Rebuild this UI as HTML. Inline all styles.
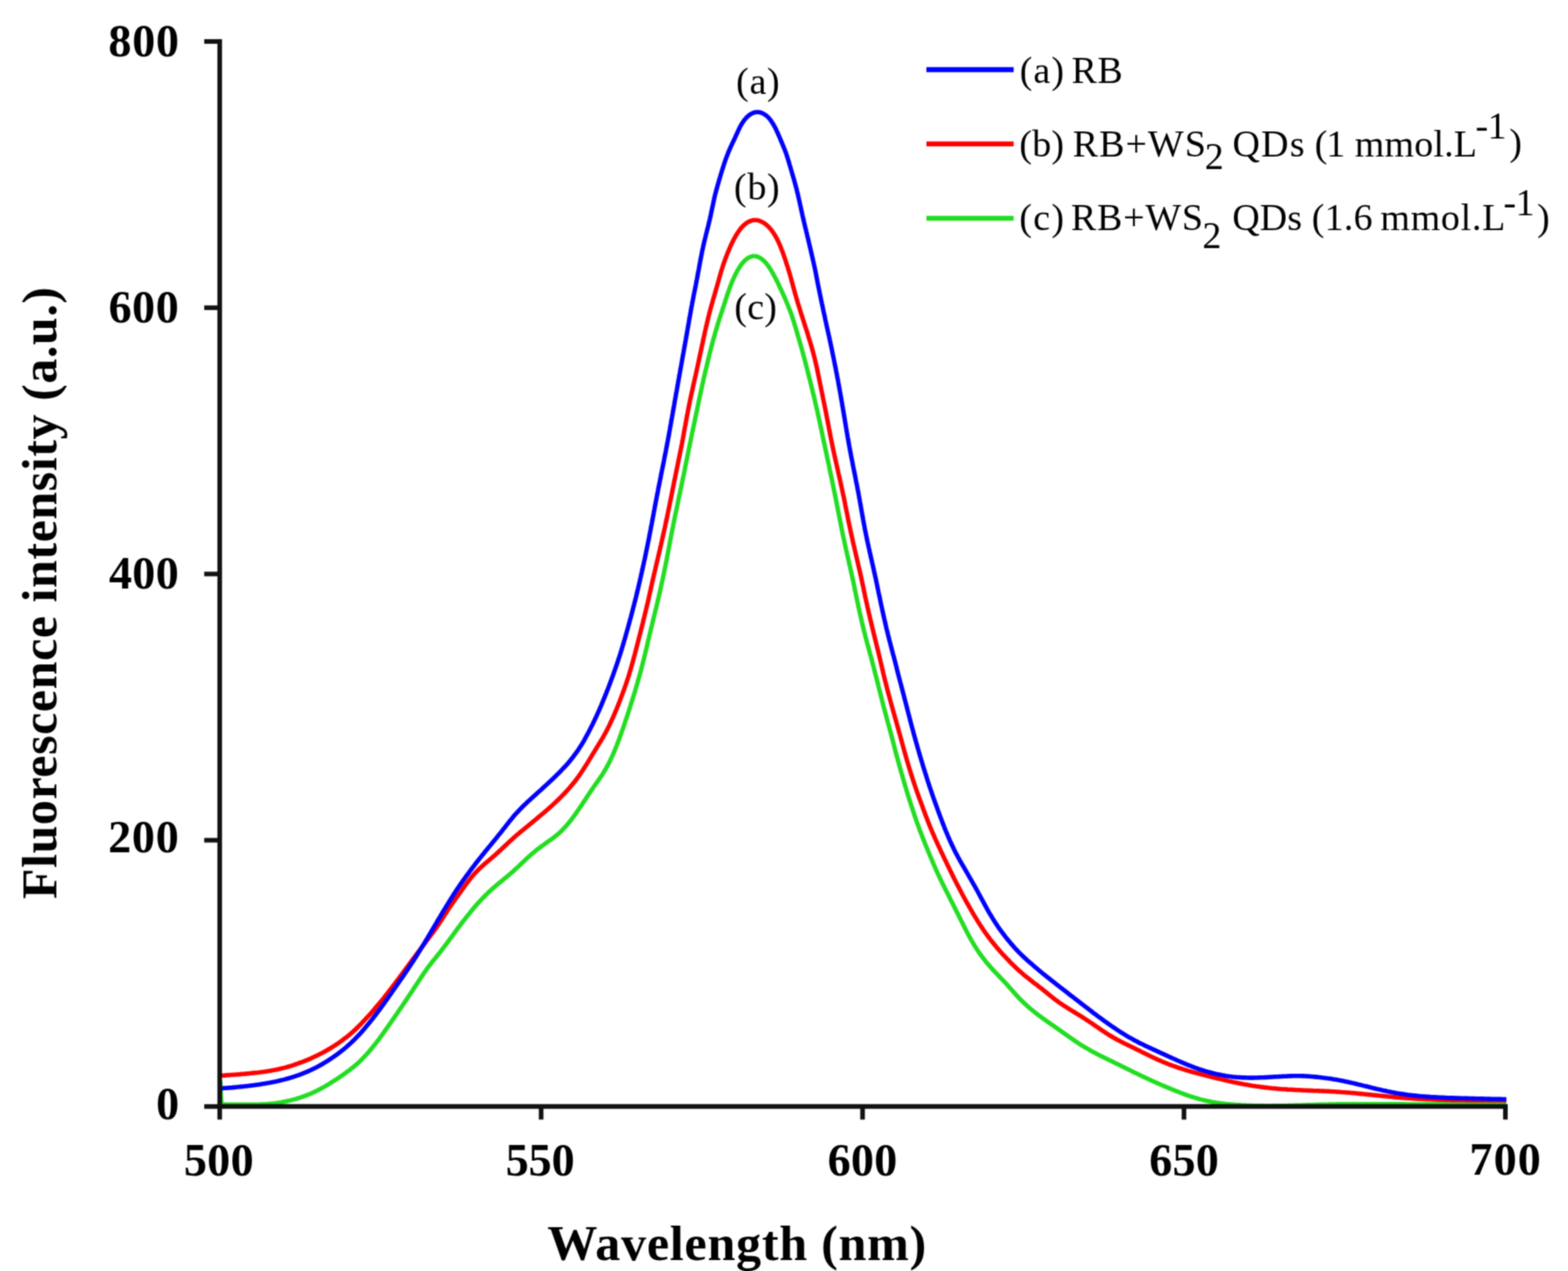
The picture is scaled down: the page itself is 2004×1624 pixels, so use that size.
<!DOCTYPE html>
<html><head><meta charset="utf-8"><title>Fluorescence spectra</title>
<style>html,body{margin:0;padding:0;background:#fff;}svg{display:block;}</style>
</head><body>
<svg xmlns="http://www.w3.org/2000/svg" width="2004" height="1624" viewBox="0 0 2004 1624"><defs><filter id="bl" x="0" y="0" width="2004" height="1624" filterUnits="userSpaceOnUse" color-interpolation-filters="sRGB"><feConvolveMatrix order="5" kernelMatrix="0.00082 0.01174 0.02857 0.01174 0.00082 0.01174 0.16901 0.41111 0.16901 0.01174 0.02857 0.41111 1.00000 0.41111 0.02857 0.01174 0.16901 0.41111 0.16901 0.01174 0.00082 0.01174 0.02857 0.01174 0.00082" edgeMode="duplicate"/></filter></defs><g filter="url(#bl)"><rect x="0" y="0" width="2004" height="1624" fill="#ffffff"/>
<g fill="none" stroke-width="5.6" stroke-linejoin="round" stroke-linecap="butt">
<path d="M281.5 1381.0 L283.0 1411.1 L285.0 1411.1 L287.0 1411.2 L289.0 1411.2 L291.0 1411.2 L293.0 1411.3 L295.0 1411.3 L297.0 1411.3 L299.0 1411.3 L301.0 1411.4 L303.0 1411.4 L305.0 1411.4 L307.0 1411.4 L309.0 1411.4 L311.0 1411.4 L313.0 1411.4 L315.0 1411.4 L317.0 1411.4 L319.1 1411.4 L321.1 1411.4 L323.1 1411.4 L325.1 1411.4 L327.1 1411.3 L329.1 1411.3 L331.1 1411.2 L333.1 1411.1 L335.0 1411.1 L337.0 1411.0 L339.0 1410.9 L341.0 1410.7 L343.0 1410.6 L345.0 1410.4 L347.0 1410.2 L349.0 1410.0 L351.0 1409.8 L352.9 1409.5 L354.9 1409.2 L356.9 1408.9 L358.9 1408.6 L360.8 1408.2 L362.8 1407.8 L364.7 1407.4 L366.7 1407.0 L368.6 1406.6 L370.6 1406.1 L372.5 1405.6 L374.5 1405.1 L376.4 1404.6 L378.3 1404.1 L380.2 1403.5 L382.1 1402.9 L384.0 1402.3 L385.9 1401.7 L387.8 1401.0 L389.7 1400.3 L391.5 1399.6 L393.4 1398.9 L395.2 1398.2 L397.1 1397.4 L398.9 1396.6 L400.7 1395.7 L402.5 1394.9 L404.3 1394.0 L406.1 1393.1 L407.9 1392.2 L409.6 1391.3 L411.4 1390.3 L413.1 1389.4 L414.9 1388.4 L416.6 1387.4 L418.3 1386.3 L420.0 1385.3 L421.7 1384.3 L423.4 1383.2 L425.1 1382.1 L426.8 1381.0 L428.5 1380.0 L430.2 1378.9 L431.8 1377.8 L433.5 1376.7 L435.2 1375.5 L436.8 1374.4 L438.5 1373.3 L440.1 1372.1 L441.7 1371.0 L443.3 1369.8 L444.9 1368.6 L446.5 1367.4 L448.1 1366.2 L449.7 1364.9 L451.2 1363.7 L452.8 1362.4 L454.3 1361.1 L455.8 1359.8 L457.3 1358.5 L458.7 1357.2 L460.2 1355.8 L461.6 1354.4 L463.0 1353.0 L464.4 1351.6 L465.8 1350.1 L467.1 1348.7 L468.5 1347.2 L469.8 1345.7 L471.1 1344.3 L472.4 1342.7 L473.7 1341.2 L475.0 1339.7 L476.2 1338.1 L477.5 1336.6 L478.7 1335.0 L480.0 1333.5 L481.2 1331.9 L482.4 1330.3 L483.6 1328.7 L484.8 1327.1 L485.9 1325.5 L487.1 1323.9 L488.3 1322.3 L489.5 1320.6 L490.6 1319.0 L491.8 1317.4 L493.0 1315.8 L494.1 1314.1 L495.3 1312.5 L496.4 1310.9 L497.6 1309.2 L498.7 1307.6 L499.9 1305.9 L501.0 1304.3 L502.1 1302.6 L503.3 1301.0 L504.4 1299.3 L505.5 1297.7 L506.7 1296.0 L507.8 1294.4 L508.9 1292.7 L510.1 1291.1 L511.2 1289.4 L512.3 1287.8 L513.5 1286.1 L514.6 1284.5 L515.7 1282.8 L516.8 1281.1 L518.0 1279.5 L519.1 1277.8 L520.2 1276.2 L521.3 1274.5 L522.4 1272.8 L523.5 1271.2 L524.6 1269.5 L525.7 1267.9 L526.8 1266.2 L527.9 1264.5 L529.0 1262.8 L530.1 1261.2 L531.2 1259.5 L532.3 1257.8 L533.4 1256.2 L534.5 1254.5 L535.6 1252.8 L536.7 1251.2 L537.8 1249.5 L538.9 1247.8 L540.0 1246.2 L541.1 1244.5 L542.2 1242.9 L543.3 1241.3 L544.5 1239.6 L545.6 1238.0 L546.8 1236.4 L548.0 1234.8 L549.2 1233.3 L550.4 1231.7 L551.6 1230.1 L552.8 1228.6 L554.1 1227.0 L555.3 1225.5 L556.6 1223.9 L557.8 1222.4 L559.1 1220.9 L560.3 1219.3 L561.5 1217.8 L562.8 1216.2 L564.0 1214.6 L565.2 1213.1 L566.4 1211.5 L567.6 1209.9 L568.8 1208.3 L570.0 1206.7 L571.2 1205.1 L572.4 1203.5 L573.6 1201.9 L574.7 1200.3 L575.9 1198.7 L577.1 1197.1 L578.3 1195.5 L579.5 1193.9 L580.6 1192.2 L581.8 1190.6 L583.0 1189.0 L584.2 1187.4 L585.4 1185.8 L586.6 1184.2 L587.8 1182.6 L589.0 1181.0 L590.2 1179.4 L591.4 1177.8 L592.6 1176.3 L593.9 1174.7 L595.1 1173.1 L596.4 1171.5 L597.6 1170.0 L598.9 1168.4 L600.1 1166.9 L601.4 1165.3 L602.6 1163.8 L603.9 1162.2 L605.2 1160.7 L606.5 1159.2 L607.8 1157.7 L609.1 1156.1 L610.4 1154.6 L611.8 1153.2 L613.1 1151.7 L614.5 1150.2 L615.8 1148.8 L617.2 1147.3 L618.6 1145.9 L620.0 1144.5 L621.4 1143.0 L622.8 1141.7 L624.2 1140.3 L625.7 1138.9 L627.2 1137.6 L628.6 1136.2 L630.1 1134.9 L631.6 1133.6 L633.1 1132.3 L634.7 1131.0 L636.2 1129.7 L637.7 1128.5 L639.3 1127.2 L640.8 1125.9 L642.4 1124.7 L643.9 1123.4 L645.4 1122.1 L647.0 1120.9 L648.5 1119.6 L650.0 1118.3 L651.6 1117.0 L653.1 1115.7 L654.6 1114.4 L656.1 1113.1 L657.5 1111.7 L659.0 1110.4 L660.5 1109.0 L661.9 1107.7 L663.4 1106.3 L664.8 1104.9 L666.3 1103.5 L667.7 1102.2 L669.2 1100.8 L670.6 1099.4 L672.1 1098.1 L673.5 1096.7 L675.0 1095.3 L676.5 1094.0 L677.9 1092.7 L679.4 1091.4 L680.9 1090.1 L682.5 1088.8 L684.0 1087.5 L685.5 1086.3 L687.1 1085.1 L688.7 1083.9 L690.3 1082.7 L691.8 1081.5 L693.5 1080.3 L695.1 1079.2 L696.7 1078.0 L698.3 1076.9 L699.9 1075.8 L701.5 1074.6 L703.1 1073.5 L704.7 1072.3 L706.3 1071.2 L707.9 1070.0 L709.4 1068.8 L710.9 1067.6 L712.4 1066.3 L713.9 1065.1 L715.4 1063.8 L716.8 1062.4 L718.2 1061.1 L719.5 1059.7 L720.9 1058.2 L722.2 1056.8 L723.5 1055.3 L724.8 1053.9 L726.1 1052.4 L727.3 1050.8 L728.6 1049.3 L729.8 1047.7 L731.0 1046.2 L732.2 1044.6 L733.4 1043.0 L734.6 1041.4 L735.7 1039.8 L736.9 1038.1 L738.0 1036.5 L739.2 1034.8 L740.3 1033.2 L741.4 1031.5 L742.5 1029.9 L743.7 1028.2 L744.8 1026.5 L745.9 1024.8 L747.0 1023.2 L748.1 1021.5 L749.2 1019.8 L750.3 1018.1 L751.4 1016.5 L752.5 1014.8 L753.6 1013.1 L754.7 1011.5 L755.8 1009.8 L757.0 1008.2 L758.1 1006.5 L759.2 1004.9 L760.4 1003.3 L761.5 1001.6 L762.7 1000.0 L763.8 998.4 L764.9 996.8 L766.1 995.1 L767.2 993.5 L768.3 991.9 L769.4 990.2 L770.5 988.6 L771.5 986.9 L772.5 985.2 L773.5 983.5 L774.5 981.8 L775.5 980.1 L776.4 978.3 L777.4 976.6 L778.3 974.8 L779.2 973.0 L780.0 971.3 L780.9 969.5 L781.7 967.7 L782.6 965.9 L783.4 964.1 L784.2 962.2 L785.0 960.4 L785.7 958.6 L786.5 956.7 L787.2 954.9 L788.0 953.0 L788.7 951.2 L789.4 949.3 L790.2 947.4 L790.9 945.5 L791.6 943.7 L792.2 941.8 L792.9 939.9 L793.6 938.0 L794.3 936.1 L794.9 934.2 L795.6 932.4 L796.3 930.5 L796.9 928.6 L797.6 926.7 L798.2 924.8 L798.9 922.9 L799.5 921.0 L800.1 919.1 L800.8 917.2 L801.4 915.3 L802.0 913.4 L802.6 911.5 L803.3 909.6 L803.9 907.7 L804.5 905.8 L805.1 903.9 L805.7 902.0 L806.3 900.0 L806.9 898.1 L807.5 896.2 L808.1 894.3 L808.7 892.4 L809.3 890.5 L809.9 888.6 L810.5 886.7 L811.1 884.8 L811.7 882.8 L812.2 880.9 L812.8 879.0 L813.4 877.1 L813.9 875.2 L814.5 873.3 L815.0 871.3 L815.6 869.4 L816.1 867.5 L816.7 865.6 L817.2 863.6 L817.7 861.7 L818.3 859.8 L818.8 857.8 L819.3 855.9 L819.8 854.0 L820.3 852.0 L820.8 850.1 L821.3 848.2 L821.8 846.2 L822.3 844.3 L822.8 842.4 L823.3 840.4 L823.7 838.5 L824.2 836.5 L824.7 834.6 L825.1 832.6 L825.6 830.7 L826.1 828.8 L826.5 826.8 L827.0 824.9 L827.4 822.9 L827.9 821.0 L828.3 819.0 L828.8 817.1 L829.3 815.1 L829.7 813.2 L830.2 811.2 L830.6 809.3 L831.1 807.3 L831.6 805.4 L832.0 803.4 L832.5 801.5 L833.0 799.6 L833.5 797.6 L833.9 795.7 L834.4 793.7 L834.9 791.8 L835.3 789.8 L835.8 787.9 L836.3 786.0 L836.8 784.0 L837.2 782.1 L837.7 780.1 L838.2 778.2 L838.7 776.2 L839.1 774.3 L839.6 772.4 L840.1 770.4 L840.5 768.5 L841.0 766.5 L841.4 764.6 L841.9 762.6 L842.3 760.7 L842.8 758.7 L843.2 756.8 L843.7 754.8 L844.1 752.9 L844.5 750.9 L845.0 749.0 L845.4 747.0 L845.8 745.1 L846.2 743.1 L846.7 741.1 L847.1 739.2 L847.5 737.2 L847.9 735.3 L848.3 733.3 L848.7 731.4 L849.1 729.4 L849.5 727.4 L849.9 725.5 L850.3 723.5 L850.7 721.6 L851.1 719.6 L851.5 717.6 L851.9 715.7 L852.3 713.7 L852.6 711.8 L853.0 709.8 L853.4 707.8 L853.8 705.9 L854.1 703.9 L854.5 701.9 L854.9 700.0 L855.2 698.0 L855.6 696.0 L856.0 694.1 L856.3 692.1 L856.7 690.1 L857.1 688.2 L857.5 686.2 L857.8 684.2 L858.2 682.3 L858.6 680.3 L859.0 678.4 L859.4 676.4 L859.8 674.4 L860.2 672.5 L860.5 670.5 L860.9 668.5 L861.3 666.6 L861.7 664.6 L862.1 662.7 L862.5 660.7 L862.9 658.7 L863.3 656.8 L863.7 654.8 L864.1 652.9 L864.6 650.9 L865.0 649.0 L865.4 647.0 L865.8 645.0 L866.2 643.1 L866.6 641.1 L867.0 639.2 L867.4 637.2 L867.8 635.3 L868.2 633.3 L868.7 631.3 L869.1 629.4 L869.5 627.4 L869.9 625.5 L870.3 623.5 L870.7 621.6 L871.1 619.6 L871.5 617.6 L871.9 615.7 L872.3 613.7 L872.7 611.8 L873.2 609.8 L873.6 607.8 L874.0 605.9 L874.4 603.9 L874.8 602.0 L875.2 600.0 L875.5 598.0 L875.9 596.1 L876.3 594.1 L876.7 592.2 L877.1 590.2 L877.5 588.2 L877.9 586.3 L878.3 584.3 L878.7 582.4 L879.1 580.4 L879.5 578.4 L879.9 576.5 L880.3 574.5 L880.7 572.6 L881.1 570.6 L881.5 568.6 L881.9 566.7 L882.3 564.7 L882.7 562.8 L883.1 560.8 L883.5 558.8 L883.9 556.9 L884.3 554.9 L884.7 553.0 L885.1 551.0 L885.5 549.1 L885.9 547.1 L886.4 545.1 L886.8 543.2 L887.2 541.2 L887.6 539.3 L888.0 537.3 L888.4 535.3 L888.8 533.4 L889.2 531.4 L889.6 529.5 L890.0 527.5 L890.4 525.6 L890.9 523.6 L891.3 521.6 L891.7 519.7 L892.1 517.7 L892.5 515.8 L892.9 513.8 L893.3 511.9 L893.7 509.9 L894.1 507.9 L894.6 506.0 L895.0 504.0 L895.4 502.1 L895.8 500.1 L896.2 498.2 L896.7 496.2 L897.1 494.3 L897.5 492.3 L897.9 490.3 L898.4 488.4 L898.8 486.4 L899.2 484.5 L899.7 482.5 L900.1 480.6 L900.6 478.6 L901.0 476.7 L901.5 474.7 L902.0 472.8 L902.4 470.9 L902.9 468.9 L903.3 467.0 L903.8 465.0 L904.3 463.1 L904.7 461.1 L905.2 459.2 L905.7 457.2 L906.1 455.3 L906.6 453.4 L907.1 451.4 L907.6 449.5 L908.1 447.5 L908.6 445.6 L909.1 443.7 L909.6 441.7 L910.1 439.8 L910.6 437.9 L911.1 435.9 L911.6 434.0 L912.2 432.1 L912.7 430.2 L913.3 428.2 L913.8 426.3 L914.4 424.4 L914.9 422.5 L915.5 420.6 L916.1 418.7 L916.6 416.8 L917.2 414.8 L917.8 412.9 L918.4 411.0 L919.0 409.1 L919.6 407.2 L920.2 405.3 L920.8 403.4 L921.4 401.5 L922.1 399.6 L922.7 397.7 L923.3 395.8 L923.9 393.9 L924.5 392.0 L925.2 390.1 L925.8 388.2 L926.4 386.3 L927.0 384.4 L927.6 382.5 L928.3 380.6 L928.9 378.7 L929.5 376.7 L930.2 374.8 L930.8 372.9 L931.5 371.0 L932.2 369.1 L932.9 367.2 L933.6 365.2 L934.4 363.3 L935.1 361.4 L935.9 359.5 L936.7 357.6 L937.6 355.6 L938.5 353.7 L939.4 351.8 L940.3 349.9 L941.3 348.1 L942.3 346.2 L943.3 344.4 L944.4 342.6 L945.5 340.8 L946.7 339.1 L947.9 337.5 L949.1 335.9 L950.5 334.4 L951.8 333.1 L953.2 331.8 L954.7 330.6 L956.2 329.6 L957.8 328.8 L959.4 328.1 L961.0 327.6 L962.6 327.3 L964.3 327.3 L965.9 327.4 L967.6 327.8 L969.2 328.4 L970.8 329.2 L972.3 330.1 L973.8 331.2 L975.3 332.4 L976.7 333.7 L978.0 335.1 L979.4 336.6 L980.6 338.2 L981.9 339.8 L983.1 341.6 L984.2 343.3 L985.3 345.1 L986.4 346.9 L987.5 348.8 L988.5 350.6 L989.5 352.5 L990.5 354.3 L991.5 356.2 L992.4 358.1 L993.4 359.9 L994.3 361.8 L995.2 363.7 L996.1 365.5 L996.9 367.4 L997.8 369.2 L998.7 371.1 L999.5 372.9 L1000.3 374.7 L1001.2 376.6 L1002.0 378.4 L1002.8 380.2 L1003.6 382.1 L1004.4 383.9 L1005.1 385.8 L1005.9 387.6 L1006.7 389.4 L1007.4 391.3 L1008.2 393.1 L1008.9 395.0 L1009.6 396.8 L1010.3 398.7 L1011.0 400.5 L1011.7 402.4 L1012.3 404.3 L1012.9 406.2 L1013.5 408.1 L1014.2 410.0 L1014.8 411.9 L1015.3 413.8 L1015.9 415.7 L1016.5 417.6 L1017.1 419.5 L1017.6 421.4 L1018.2 423.3 L1018.7 425.2 L1019.3 427.1 L1019.8 429.1 L1020.4 431.0 L1021.0 432.9 L1021.5 434.8 L1022.1 436.7 L1022.6 438.6 L1023.2 440.5 L1023.7 442.5 L1024.3 444.4 L1024.8 446.3 L1025.3 448.2 L1025.9 450.2 L1026.4 452.1 L1026.9 454.0 L1027.4 455.9 L1028.0 457.9 L1028.5 459.8 L1029.0 461.7 L1029.5 463.7 L1030.0 465.6 L1030.5 467.5 L1031.0 469.5 L1031.5 471.4 L1032.0 473.4 L1032.5 475.3 L1033.0 477.2 L1033.5 479.2 L1033.9 481.1 L1034.4 483.1 L1034.9 485.0 L1035.4 486.9 L1035.9 488.9 L1036.4 490.8 L1036.8 492.8 L1037.3 494.7 L1037.8 496.6 L1038.3 498.6 L1038.7 500.5 L1039.2 502.5 L1039.7 504.4 L1040.2 506.4 L1040.6 508.3 L1041.1 510.3 L1041.5 512.2 L1042.0 514.2 L1042.4 516.1 L1042.9 518.0 L1043.3 520.0 L1043.8 521.9 L1044.2 523.9 L1044.7 525.8 L1045.1 527.8 L1045.5 529.8 L1046.0 531.7 L1046.4 533.7 L1046.8 535.6 L1047.3 537.6 L1047.7 539.5 L1048.1 541.5 L1048.5 543.4 L1048.9 545.4 L1049.3 547.3 L1049.8 549.3 L1050.2 551.3 L1050.6 553.2 L1051.0 555.2 L1051.4 557.1 L1051.8 559.1 L1052.2 561.0 L1052.6 563.0 L1053.0 565.0 L1053.5 566.9 L1053.9 568.9 L1054.3 570.8 L1054.7 572.8 L1055.1 574.7 L1055.5 576.7 L1056.0 578.7 L1056.4 580.6 L1056.8 582.6 L1057.2 584.5 L1057.6 586.5 L1058.0 588.4 L1058.4 590.4 L1058.9 592.3 L1059.3 594.3 L1059.7 596.3 L1060.1 598.2 L1060.5 600.2 L1060.9 602.1 L1061.3 604.1 L1061.7 606.0 L1062.1 608.0 L1062.6 610.0 L1063.0 611.9 L1063.4 613.9 L1063.8 615.8 L1064.2 617.8 L1064.6 619.8 L1065.0 621.7 L1065.4 623.7 L1065.8 625.6 L1066.2 627.6 L1066.6 629.6 L1067.0 631.5 L1067.4 633.5 L1067.8 635.4 L1068.2 637.4 L1068.6 639.4 L1069.0 641.3 L1069.4 643.3 L1069.7 645.2 L1070.1 647.2 L1070.5 649.2 L1070.9 651.1 L1071.3 653.1 L1071.7 655.1 L1072.0 657.0 L1072.4 659.0 L1072.8 660.9 L1073.2 662.9 L1073.6 664.9 L1074.0 666.8 L1074.4 668.8 L1074.7 670.8 L1075.1 672.7 L1075.5 674.7 L1075.9 676.6 L1076.3 678.6 L1076.7 680.6 L1077.1 682.5 L1077.5 684.5 L1077.9 686.4 L1078.4 688.4 L1078.8 690.3 L1079.2 692.3 L1079.6 694.3 L1080.0 696.2 L1080.5 698.2 L1080.9 700.1 L1081.3 702.1 L1081.8 704.0 L1082.2 706.0 L1082.6 707.9 L1083.1 709.9 L1083.5 711.8 L1084.0 713.8 L1084.4 715.7 L1084.8 717.7 L1085.3 719.6 L1085.7 721.6 L1086.2 723.5 L1086.6 725.5 L1087.0 727.4 L1087.5 729.4 L1087.9 731.3 L1088.4 733.3 L1088.8 735.2 L1089.2 737.2 L1089.6 739.1 L1090.1 741.1 L1090.5 743.0 L1090.9 745.0 L1091.3 747.0 L1091.7 748.9 L1092.1 750.9 L1092.5 752.8 L1092.9 754.8 L1093.3 756.8 L1093.7 758.7 L1094.1 760.7 L1094.5 762.6 L1094.9 764.6 L1095.3 766.5 L1095.8 768.5 L1096.2 770.5 L1096.6 772.4 L1097.0 774.4 L1097.4 776.3 L1097.8 778.3 L1098.3 780.2 L1098.7 782.2 L1099.1 784.1 L1099.6 786.1 L1100.0 788.0 L1100.4 790.0 L1100.9 791.9 L1101.3 793.9 L1101.8 795.8 L1102.2 797.8 L1102.7 799.7 L1103.2 801.7 L1103.7 803.6 L1104.1 805.6 L1104.6 807.5 L1105.1 809.4 L1105.6 811.4 L1106.1 813.3 L1106.6 815.2 L1107.1 817.2 L1107.6 819.1 L1108.1 821.0 L1108.7 823.0 L1109.2 824.9 L1109.7 826.8 L1110.2 828.8 L1110.8 830.7 L1111.3 832.6 L1111.8 834.5 L1112.3 836.5 L1112.9 838.4 L1113.4 840.3 L1113.9 842.3 L1114.4 844.2 L1114.9 846.1 L1115.4 848.1 L1115.9 850.0 L1116.4 851.9 L1116.9 853.9 L1117.4 855.8 L1117.9 857.7 L1118.4 859.7 L1118.9 861.6 L1119.4 863.6 L1119.9 865.5 L1120.4 867.4 L1120.9 869.4 L1121.4 871.3 L1121.9 873.3 L1122.4 875.2 L1122.8 877.1 L1123.3 879.1 L1123.8 881.0 L1124.3 883.0 L1124.8 884.9 L1125.3 886.8 L1125.8 888.8 L1126.3 890.7 L1126.8 892.6 L1127.2 894.6 L1127.7 896.5 L1128.2 898.5 L1128.7 900.4 L1129.2 902.3 L1129.7 904.3 L1130.2 906.2 L1130.8 908.1 L1131.3 910.1 L1131.8 912.0 L1132.3 913.9 L1132.8 915.9 L1133.3 917.8 L1133.9 919.7 L1134.4 921.7 L1134.9 923.6 L1135.4 925.5 L1136.0 927.4 L1136.5 929.4 L1137.0 931.3 L1137.5 933.2 L1138.1 935.2 L1138.6 937.1 L1139.1 939.0 L1139.6 941.0 L1140.1 942.9 L1140.6 944.8 L1141.1 946.8 L1141.6 948.7 L1142.1 950.6 L1142.6 952.6 L1143.1 954.5 L1143.6 956.4 L1144.1 958.4 L1144.6 960.3 L1145.1 962.2 L1145.6 964.2 L1146.1 966.1 L1146.7 968.0 L1147.2 970.0 L1147.7 971.9 L1148.2 973.8 L1148.8 975.7 L1149.3 977.7 L1149.8 979.6 L1150.4 981.5 L1150.9 983.4 L1151.5 985.4 L1152.0 987.3 L1152.6 989.2 L1153.1 991.1 L1153.7 993.1 L1154.2 995.0 L1154.8 996.9 L1155.3 998.8 L1155.9 1000.7 L1156.5 1002.7 L1157.0 1004.6 L1157.6 1006.5 L1158.2 1008.4 L1158.7 1010.3 L1159.3 1012.2 L1159.9 1014.2 L1160.5 1016.1 L1161.1 1018.0 L1161.7 1019.9 L1162.3 1021.8 L1162.9 1023.7 L1163.5 1025.6 L1164.1 1027.5 L1164.7 1029.4 L1165.4 1031.3 L1166.0 1033.2 L1166.6 1035.1 L1167.2 1037.0 L1167.9 1038.9 L1168.5 1040.8 L1169.1 1042.7 L1169.8 1044.6 L1170.4 1046.5 L1171.1 1048.4 L1171.7 1050.2 L1172.4 1052.1 L1173.1 1054.0 L1173.8 1055.9 L1174.5 1057.8 L1175.1 1059.6 L1175.8 1061.5 L1176.6 1063.4 L1177.3 1065.3 L1178.0 1067.1 L1178.7 1069.0 L1179.5 1070.8 L1180.2 1072.7 L1180.9 1074.6 L1181.7 1076.4 L1182.4 1078.3 L1183.2 1080.1 L1183.9 1082.0 L1184.7 1083.8 L1185.5 1085.7 L1186.2 1087.5 L1187.0 1089.4 L1187.8 1091.2 L1188.5 1093.1 L1189.3 1094.9 L1190.1 1096.7 L1190.9 1098.6 L1191.6 1100.4 L1192.4 1102.3 L1193.2 1104.1 L1194.0 1105.9 L1194.8 1107.8 L1195.6 1109.6 L1196.4 1111.4 L1197.2 1113.3 L1198.0 1115.1 L1198.9 1116.9 L1199.7 1118.7 L1200.6 1120.5 L1201.4 1122.3 L1202.3 1124.1 L1203.1 1125.9 L1204.0 1127.7 L1204.9 1129.5 L1205.8 1131.3 L1206.7 1133.1 L1207.6 1134.9 L1208.5 1136.7 L1209.4 1138.5 L1210.3 1140.2 L1211.2 1142.0 L1212.1 1143.8 L1213.0 1145.6 L1213.9 1147.4 L1214.8 1149.2 L1215.7 1150.9 L1216.6 1152.7 L1217.5 1154.5 L1218.4 1156.3 L1219.3 1158.1 L1220.2 1159.9 L1221.1 1161.7 L1222.0 1163.5 L1222.9 1165.2 L1223.8 1167.0 L1224.7 1168.8 L1225.6 1170.6 L1226.5 1172.4 L1227.4 1174.2 L1228.3 1176.0 L1229.2 1177.8 L1230.1 1179.6 L1231.0 1181.4 L1231.9 1183.2 L1232.8 1184.9 L1233.7 1186.7 L1234.6 1188.5 L1235.5 1190.3 L1236.4 1192.1 L1237.3 1193.8 L1238.3 1195.6 L1239.2 1197.4 L1240.2 1199.1 L1241.2 1200.9 L1242.2 1202.6 L1243.2 1204.3 L1244.2 1206.0 L1245.2 1207.7 L1246.3 1209.4 L1247.3 1211.1 L1248.4 1212.8 L1249.5 1214.5 L1250.6 1216.1 L1251.7 1217.8 L1252.9 1219.4 L1254.1 1221.0 L1255.3 1222.6 L1256.5 1224.2 L1257.7 1225.8 L1258.9 1227.3 L1260.2 1228.9 L1261.4 1230.4 L1262.7 1231.9 L1264.0 1233.4 L1265.3 1234.9 L1266.6 1236.4 L1268.0 1237.9 L1269.3 1239.4 L1270.7 1240.8 L1272.0 1242.3 L1273.4 1243.7 L1274.8 1245.2 L1276.1 1246.6 L1277.5 1248.0 L1278.9 1249.5 L1280.3 1250.9 L1281.7 1252.3 L1283.0 1253.8 L1284.4 1255.2 L1285.7 1256.7 L1287.1 1258.1 L1288.4 1259.6 L1289.7 1261.1 L1291.0 1262.5 L1292.3 1264.0 L1293.6 1265.5 L1294.9 1267.0 L1296.3 1268.5 L1297.6 1270.0 L1298.9 1271.4 L1300.2 1272.9 L1301.6 1274.3 L1302.9 1275.8 L1304.3 1277.2 L1305.7 1278.6 L1307.1 1280.0 L1308.6 1281.3 L1310.0 1282.7 L1311.5 1284.0 L1313.0 1285.4 L1314.4 1286.7 L1315.9 1288.0 L1317.5 1289.3 L1319.0 1290.5 L1320.5 1291.8 L1322.1 1293.0 L1323.6 1294.3 L1325.2 1295.5 L1326.8 1296.7 L1328.4 1297.9 L1330.0 1299.1 L1331.6 1300.3 L1333.2 1301.5 L1334.8 1302.6 L1336.4 1303.8 L1338.1 1304.9 L1339.7 1306.1 L1341.4 1307.2 L1343.0 1308.4 L1344.6 1309.5 L1346.3 1310.6 L1347.9 1311.8 L1349.6 1312.9 L1351.2 1314.1 L1352.8 1315.2 L1354.5 1316.4 L1356.1 1317.6 L1357.7 1318.7 L1359.4 1319.9 L1361.0 1321.0 L1362.6 1322.2 L1364.3 1323.3 L1365.9 1324.5 L1367.5 1325.6 L1369.2 1326.8 L1370.8 1327.9 L1372.5 1329.0 L1374.1 1330.2 L1375.8 1331.3 L1377.4 1332.4 L1379.1 1333.5 L1380.8 1334.6 L1382.5 1335.6 L1384.1 1336.7 L1385.8 1337.7 L1387.6 1338.7 L1389.3 1339.7 L1391.0 1340.7 L1392.7 1341.7 L1394.5 1342.7 L1396.2 1343.7 L1398.0 1344.6 L1399.8 1345.5 L1401.5 1346.5 L1403.3 1347.4 L1405.1 1348.3 L1406.9 1349.2 L1408.7 1350.1 L1410.4 1350.9 L1412.2 1351.8 L1414.0 1352.7 L1415.8 1353.6 L1417.6 1354.5 L1419.4 1355.3 L1421.2 1356.2 L1423.0 1357.1 L1424.8 1358.0 L1426.6 1358.9 L1428.4 1359.7 L1430.2 1360.6 L1432.0 1361.5 L1433.8 1362.4 L1435.6 1363.3 L1437.4 1364.2 L1439.2 1365.0 L1441.0 1365.9 L1442.8 1366.8 L1444.6 1367.7 L1446.4 1368.6 L1448.1 1369.5 L1449.9 1370.4 L1451.7 1371.2 L1453.5 1372.1 L1455.3 1373.0 L1457.1 1373.8 L1459.0 1374.7 L1460.8 1375.6 L1462.6 1376.4 L1464.4 1377.3 L1466.2 1378.1 L1468.0 1379.0 L1469.8 1379.8 L1471.6 1380.6 L1473.5 1381.5 L1475.3 1382.3 L1477.1 1383.1 L1478.9 1383.9 L1480.8 1384.7 L1482.6 1385.5 L1484.4 1386.3 L1486.3 1387.1 L1488.1 1387.9 L1490.0 1388.7 L1491.8 1389.4 L1493.7 1390.2 L1495.5 1391.0 L1497.4 1391.7 L1499.2 1392.5 L1501.1 1393.2 L1502.9 1394.0 L1504.8 1394.7 L1506.7 1395.5 L1508.5 1396.2 L1510.4 1396.9 L1512.3 1397.6 L1514.1 1398.3 L1516.0 1399.0 L1517.9 1399.6 L1519.8 1400.3 L1521.7 1400.9 L1523.6 1401.5 L1525.5 1402.1 L1527.4 1402.7 L1529.3 1403.3 L1531.2 1403.8 L1533.1 1404.4 L1535.1 1404.9 L1537.0 1405.4 L1538.9 1405.8 L1540.9 1406.3 L1542.8 1406.7 L1544.8 1407.1 L1546.7 1407.5 L1548.7 1407.9 L1550.7 1408.3 L1552.6 1408.6 L1554.6 1408.9 L1556.6 1409.2 L1558.5 1409.5 L1560.5 1409.8 L1562.5 1410.0 L1564.5 1410.2 L1566.5 1410.5 L1568.4 1410.7 L1570.4 1410.9 L1572.4 1411.0 L1574.4 1411.2 L1576.4 1411.4 L1578.4 1411.5 L1580.4 1411.7 L1582.4 1411.8 L1584.4 1411.9 L1586.4 1412.1 L1588.3 1412.2 L1590.3 1412.3 L1592.3 1412.4 L1594.3 1412.5 L1596.3 1412.5 L1598.3 1412.6 L1600.3 1412.7 L1602.3 1412.7 L1604.3 1412.8 L1606.3 1412.8 L1608.3 1412.9 L1610.3 1412.9 L1612.3 1412.9 L1614.3 1412.9 L1616.3 1413.0 L1618.3 1413.0 L1620.3 1413.0 L1622.3 1413.0 L1624.3 1413.0 L1626.3 1412.9 L1628.3 1412.9 L1630.3 1412.9 L1632.3 1412.9 L1634.3 1412.9 L1636.3 1412.8 L1638.3 1412.8 L1640.3 1412.8 L1642.3 1412.7 L1644.3 1412.7 L1646.4 1412.6 L1648.4 1412.6 L1650.4 1412.5 L1652.4 1412.5 L1654.4 1412.4 L1656.4 1412.4 L1658.4 1412.3 L1660.4 1412.2 L1662.4 1412.2 L1664.4 1412.1 L1666.4 1412.1 L1668.4 1412.0 L1670.4 1411.9 L1672.4 1411.9 L1674.4 1411.8 L1676.4 1411.7 L1678.4 1411.7 L1680.4 1411.6 L1682.4 1411.6 L1684.5 1411.5 L1686.5 1411.4 L1688.5 1411.4 L1690.5 1411.3 L1692.5 1411.3 L1694.5 1411.2 L1696.5 1411.2 L1698.5 1411.1 L1700.5 1411.1 L1702.5 1411.0 L1704.5 1411.0 L1706.5 1411.0 L1708.5 1410.9 L1710.5 1410.9 L1712.5 1410.9 L1714.5 1410.8 L1716.5 1410.8 L1718.5 1410.8 L1720.5 1410.8 L1722.5 1410.8 L1724.5 1410.7 L1726.5 1410.7 L1728.5 1410.7 L1730.5 1410.7 L1732.5 1410.7 L1734.5 1410.7 L1736.5 1410.7 L1738.5 1410.7 L1740.5 1410.7 L1742.5 1410.7 L1744.5 1410.7 L1746.5 1410.7 L1748.5 1410.7 L1750.5 1410.7 L1752.5 1410.7 L1754.5 1410.7 L1756.5 1410.7 L1758.5 1410.7 L1760.5 1410.7 L1762.5 1410.7 L1764.5 1410.7 L1766.5 1410.8 L1768.5 1410.8 L1770.5 1410.8 L1772.5 1410.8 L1774.5 1410.8 L1776.5 1410.8 L1778.5 1410.8 L1780.5 1410.8 L1782.5 1410.9 L1784.5 1410.9 L1786.5 1410.9 L1788.5 1410.9 L1790.5 1410.9 L1792.5 1410.9 L1794.5 1410.9 L1796.5 1411.0 L1798.5 1411.0 L1800.5 1411.0 L1802.5 1411.0 L1804.5 1411.0 L1806.5 1411.0 L1808.5 1411.0 L1810.5 1411.0 L1812.5 1411.0 L1814.5 1411.0 L1816.5 1411.1 L1818.5 1411.1 L1820.5 1411.1 L1822.5 1411.1 L1824.5 1411.1 L1826.5 1411.1 L1828.5 1411.1 L1830.5 1411.1 L1832.5 1411.1 L1834.5 1411.1 L1836.5 1411.1 L1838.5 1411.1 L1840.5 1411.1 L1842.5 1411.1 L1844.5 1411.1 L1846.5 1411.1 L1848.5 1411.1 L1850.5 1411.1 L1852.5 1411.1 L1854.5 1411.1 L1856.5 1411.1 L1858.5 1411.1 L1860.5 1411.1 L1862.5 1411.1 L1864.5 1411.1 L1866.5 1411.1 L1868.5 1411.1 L1870.5 1411.1 L1872.5 1411.1 L1874.5 1411.1 L1876.5 1411.1 L1878.5 1411.1 L1880.5 1411.1 L1882.5 1411.1 L1884.5 1411.1 L1886.5 1411.1 L1888.5 1411.1 L1890.5 1411.1 L1892.5 1411.1 L1894.5 1411.1 L1896.5 1411.1 L1898.5 1411.1 L1900.5 1411.1 L1902.5 1411.1 L1904.5 1411.1 L1906.5 1411.0 L1908.5 1411.0 L1910.5 1411.0 L1912.5 1411.0 L1914.5 1411.0 L1916.5 1411.0 L1918.5 1411.0 L1920.5 1411.0 L1922.5 1411.0 L1924.5 1411.0 L1925.0 1411.0" stroke="#22dd22"/>
<path d="M281.0 1374.5 L283.0 1374.3 L285.0 1374.2 L287.0 1374.1 L289.0 1373.9 L291.0 1373.8 L293.0 1373.6 L295.0 1373.5 L297.0 1373.3 L299.0 1373.2 L301.0 1373.0 L303.0 1372.9 L305.0 1372.7 L307.0 1372.6 L309.0 1372.4 L311.0 1372.2 L313.0 1372.1 L314.9 1371.9 L316.9 1371.7 L318.9 1371.5 L320.9 1371.3 L322.9 1371.1 L324.9 1370.9 L326.9 1370.7 L328.9 1370.5 L330.9 1370.2 L332.9 1370.0 L334.8 1369.7 L336.8 1369.5 L338.8 1369.2 L340.8 1368.9 L342.7 1368.6 L344.7 1368.3 L346.7 1367.9 L348.7 1367.6 L350.6 1367.2 L352.6 1366.8 L354.5 1366.4 L356.5 1366.0 L358.4 1365.5 L360.4 1365.1 L362.3 1364.6 L364.2 1364.1 L366.2 1363.6 L368.1 1363.0 L370.0 1362.5 L371.9 1361.9 L373.8 1361.3 L375.7 1360.7 L377.6 1360.0 L379.5 1359.4 L381.4 1358.7 L383.3 1358.0 L385.1 1357.3 L387.0 1356.6 L388.9 1355.9 L390.7 1355.1 L392.6 1354.4 L394.4 1353.6 L396.3 1352.8 L398.1 1352.0 L399.9 1351.1 L401.7 1350.3 L403.6 1349.4 L405.4 1348.6 L407.2 1347.7 L408.9 1346.8 L410.7 1345.9 L412.5 1344.9 L414.3 1344.0 L416.0 1343.0 L417.8 1342.0 L419.5 1341.0 L421.2 1340.0 L422.9 1339.0 L424.6 1338.0 L426.3 1336.9 L428.0 1335.8 L429.7 1334.7 L431.3 1333.6 L433.0 1332.5 L434.6 1331.3 L436.2 1330.2 L437.8 1329.0 L439.4 1327.8 L441.0 1326.6 L442.6 1325.4 L444.2 1324.2 L445.7 1322.9 L447.2 1321.7 L448.7 1320.4 L450.2 1319.1 L451.7 1317.7 L453.2 1316.4 L454.6 1315.0 L456.0 1313.6 L457.5 1312.2 L458.9 1310.8 L460.3 1309.4 L461.7 1308.0 L463.0 1306.5 L464.4 1305.1 L465.8 1303.6 L467.1 1302.2 L468.5 1300.7 L469.9 1299.2 L471.2 1297.8 L472.5 1296.3 L473.9 1294.8 L475.2 1293.3 L476.5 1291.8 L477.8 1290.3 L479.1 1288.7 L480.4 1287.2 L481.7 1285.7 L483.0 1284.2 L484.3 1282.6 L485.6 1281.1 L486.8 1279.5 L488.1 1278.0 L489.4 1276.4 L490.6 1274.9 L491.9 1273.3 L493.1 1271.7 L494.3 1270.2 L495.6 1268.6 L496.8 1267.0 L498.0 1265.4 L499.3 1263.8 L500.5 1262.2 L501.7 1260.6 L502.9 1259.1 L504.1 1257.5 L505.3 1255.9 L506.5 1254.3 L507.7 1252.7 L508.9 1251.1 L510.1 1249.5 L511.3 1247.8 L512.5 1246.2 L513.7 1244.6 L514.9 1243.0 L516.1 1241.4 L517.3 1239.8 L518.4 1238.2 L519.6 1236.6 L520.8 1235.0 L522.0 1233.4 L523.2 1231.7 L524.4 1230.1 L525.6 1228.5 L526.7 1226.9 L527.9 1225.3 L529.1 1223.7 L530.3 1222.1 L531.5 1220.5 L532.7 1218.9 L533.9 1217.3 L535.1 1215.7 L536.3 1214.1 L537.5 1212.5 L538.7 1210.9 L539.9 1209.3 L541.1 1207.7 L542.3 1206.1 L543.5 1204.5 L544.7 1202.9 L545.9 1201.3 L547.1 1199.7 L548.3 1198.1 L549.5 1196.5 L550.7 1194.9 L551.9 1193.3 L553.1 1191.7 L554.3 1190.1 L555.4 1188.5 L556.6 1186.9 L557.7 1185.2 L558.8 1183.6 L560.0 1181.9 L561.1 1180.3 L562.2 1178.6 L563.3 1177.0 L564.4 1175.3 L565.5 1173.6 L566.5 1172.0 L567.6 1170.3 L568.7 1168.6 L569.8 1166.9 L570.9 1165.3 L571.9 1163.6 L573.0 1161.9 L574.1 1160.3 L575.2 1158.6 L576.3 1157.0 L577.5 1155.3 L578.6 1153.7 L579.7 1152.1 L580.9 1150.5 L582.0 1148.8 L583.2 1147.2 L584.3 1145.6 L585.5 1144.0 L586.6 1142.4 L587.8 1140.8 L588.9 1139.2 L590.1 1137.6 L591.2 1135.9 L592.4 1134.3 L593.5 1132.7 L594.7 1131.1 L595.9 1129.5 L597.1 1127.9 L598.2 1126.3 L599.5 1124.8 L600.7 1123.2 L601.9 1121.7 L603.2 1120.2 L604.5 1118.7 L605.8 1117.2 L607.1 1115.7 L608.4 1114.3 L609.8 1112.9 L611.2 1111.5 L612.6 1110.1 L614.1 1108.7 L615.5 1107.4 L617.0 1106.1 L618.5 1104.7 L620.0 1103.4 L621.5 1102.1 L623.0 1100.8 L624.5 1099.6 L626.0 1098.3 L627.6 1097.0 L629.1 1095.7 L630.6 1094.4 L632.1 1093.1 L633.6 1091.7 L635.1 1090.4 L636.5 1089.1 L638.0 1087.7 L639.5 1086.4 L640.9 1085.0 L642.4 1083.7 L643.8 1082.3 L645.3 1080.9 L646.7 1079.6 L648.2 1078.2 L649.6 1076.8 L651.1 1075.5 L652.5 1074.1 L654.0 1072.8 L655.5 1071.5 L656.9 1070.1 L658.4 1068.8 L659.9 1067.5 L661.4 1066.2 L663.0 1065.0 L664.5 1063.7 L666.0 1062.4 L667.5 1061.2 L669.1 1059.9 L670.6 1058.6 L672.1 1057.4 L673.7 1056.1 L675.2 1054.9 L676.7 1053.6 L678.3 1052.4 L679.8 1051.1 L681.3 1049.8 L682.8 1048.6 L684.4 1047.3 L685.9 1046.0 L687.4 1044.8 L689.0 1043.5 L690.5 1042.2 L692.0 1040.9 L693.6 1039.7 L695.1 1038.4 L696.6 1037.1 L698.1 1035.8 L699.6 1034.5 L701.1 1033.2 L702.6 1031.9 L704.1 1030.5 L705.6 1029.2 L707.1 1027.8 L708.5 1026.5 L710.0 1025.1 L711.4 1023.7 L712.9 1022.4 L714.3 1021.0 L715.7 1019.6 L717.1 1018.1 L718.5 1016.7 L719.9 1015.3 L721.3 1013.8 L722.7 1012.4 L724.0 1010.9 L725.4 1009.4 L726.7 1008.0 L728.0 1006.5 L729.3 1004.9 L730.6 1003.4 L731.9 1001.9 L733.1 1000.3 L734.4 998.8 L735.6 997.2 L736.8 995.6 L738.0 994.0 L739.2 992.4 L740.3 990.8 L741.5 989.1 L742.6 987.5 L743.7 985.8 L744.8 984.2 L745.9 982.5 L747.0 980.8 L748.1 979.1 L749.1 977.5 L750.2 975.8 L751.2 974.1 L752.3 972.4 L753.3 970.7 L754.3 968.9 L755.4 967.2 L756.4 965.5 L757.4 963.8 L758.5 962.1 L759.5 960.4 L760.5 958.7 L761.6 957.0 L762.6 955.3 L763.7 953.6 L764.7 951.9 L765.7 950.2 L766.8 948.5 L767.8 946.8 L768.8 945.1 L769.9 943.4 L770.9 941.7 L771.8 940.0 L772.8 938.2 L773.8 936.5 L774.7 934.7 L775.6 933.0 L776.5 931.2 L777.4 929.4 L778.3 927.7 L779.2 925.9 L780.0 924.1 L780.9 922.3 L781.7 920.4 L782.5 918.6 L783.4 916.8 L784.2 915.0 L785.0 913.2 L785.7 911.3 L786.5 909.5 L787.3 907.6 L788.1 905.8 L788.8 903.9 L789.6 902.1 L790.3 900.2 L791.0 898.4 L791.8 896.5 L792.5 894.6 L793.2 892.8 L793.9 890.9 L794.6 889.0 L795.3 887.1 L796.0 885.3 L796.7 883.4 L797.4 881.5 L798.1 879.6 L798.7 877.7 L799.4 875.9 L800.1 874.0 L800.7 872.1 L801.3 870.2 L802.0 868.3 L802.6 866.4 L803.2 864.5 L803.8 862.6 L804.4 860.6 L804.9 858.7 L805.5 856.8 L806.1 854.9 L806.6 853.0 L807.2 851.1 L807.7 849.1 L808.2 847.2 L808.8 845.3 L809.3 843.3 L809.8 841.4 L810.3 839.5 L810.9 837.5 L811.4 835.6 L811.9 833.7 L812.4 831.7 L812.9 829.8 L813.4 827.9 L813.9 825.9 L814.4 824.0 L814.9 822.1 L815.4 820.1 L815.9 818.2 L816.4 816.3 L816.9 814.3 L817.4 812.4 L817.9 810.4 L818.4 808.5 L818.8 806.6 L819.3 804.6 L819.8 802.7 L820.3 800.7 L820.8 798.8 L821.3 796.9 L821.8 794.9 L822.2 793.0 L822.7 791.0 L823.2 789.1 L823.7 787.1 L824.1 785.2 L824.6 783.3 L825.1 781.3 L825.6 779.4 L826.0 777.4 L826.5 775.5 L826.9 773.5 L827.4 771.6 L827.9 769.6 L828.3 767.7 L828.8 765.7 L829.2 763.8 L829.6 761.8 L830.1 759.9 L830.5 757.9 L831.0 756.0 L831.4 754.0 L831.8 752.1 L832.2 750.1 L832.7 748.2 L833.1 746.2 L833.5 744.3 L834.0 742.3 L834.4 740.4 L834.9 738.4 L835.3 736.5 L835.8 734.5 L836.2 732.6 L836.7 730.6 L837.1 728.7 L837.6 726.7 L838.0 724.8 L838.5 722.8 L838.9 720.9 L839.4 719.0 L839.9 717.0 L840.3 715.1 L840.8 713.1 L841.2 711.2 L841.7 709.2 L842.2 707.3 L842.6 705.3 L843.1 703.4 L843.5 701.4 L844.0 699.5 L844.4 697.5 L844.9 695.6 L845.3 693.6 L845.8 691.7 L846.2 689.7 L846.6 687.8 L847.1 685.8 L847.5 683.9 L847.9 681.9 L848.4 680.0 L848.8 678.0 L849.2 676.1 L849.7 674.1 L850.1 672.2 L850.5 670.2 L850.9 668.3 L851.3 666.3 L851.8 664.3 L852.2 662.4 L852.6 660.4 L853.0 658.5 L853.4 656.5 L853.8 654.5 L854.2 652.6 L854.6 650.6 L855.0 648.7 L855.4 646.7 L855.8 644.8 L856.2 642.8 L856.6 640.8 L857.0 638.9 L857.4 636.9 L857.8 634.9 L858.2 633.0 L858.6 631.0 L859.0 629.1 L859.4 627.1 L859.7 625.1 L860.1 623.2 L860.5 621.2 L860.9 619.3 L861.3 617.3 L861.7 615.3 L862.1 613.4 L862.5 611.4 L862.9 609.5 L863.3 607.5 L863.7 605.5 L864.1 603.6 L864.5 601.6 L864.9 599.7 L865.3 597.7 L865.7 595.7 L866.1 593.8 L866.5 591.8 L866.9 589.9 L867.3 587.9 L867.7 586.0 L868.1 584.0 L868.5 582.0 L868.9 580.1 L869.3 578.1 L869.7 576.2 L870.1 574.2 L870.5 572.2 L870.9 570.3 L871.3 568.3 L871.7 566.4 L872.0 564.4 L872.4 562.4 L872.8 560.5 L873.1 558.5 L873.5 556.5 L873.8 554.6 L874.2 552.6 L874.5 550.6 L874.9 548.7 L875.2 546.7 L875.6 544.7 L876.0 542.7 L876.3 540.8 L876.7 538.8 L877.0 536.8 L877.4 534.9 L877.8 532.9 L878.1 530.9 L878.5 529.0 L878.9 527.0 L879.2 525.1 L879.6 523.1 L880.0 521.1 L880.4 519.2 L880.8 517.2 L881.2 515.3 L881.6 513.3 L882.0 511.3 L882.4 509.4 L882.8 507.4 L883.3 505.5 L883.7 503.5 L884.1 501.6 L884.5 499.6 L885.0 497.7 L885.4 495.7 L885.8 493.7 L886.3 491.8 L886.7 489.8 L887.1 487.9 L887.6 485.9 L888.0 484.0 L888.4 482.0 L888.9 480.1 L889.3 478.1 L889.7 476.2 L890.2 474.2 L890.6 472.3 L891.0 470.3 L891.5 468.4 L891.9 466.4 L892.3 464.5 L892.7 462.5 L893.2 460.5 L893.6 458.6 L894.0 456.6 L894.4 454.7 L894.8 452.7 L895.3 450.8 L895.7 448.8 L896.1 446.9 L896.5 444.9 L896.9 442.9 L897.3 441.0 L897.8 439.0 L898.2 437.1 L898.6 435.1 L899.0 433.2 L899.4 431.2 L899.9 429.2 L900.3 427.3 L900.7 425.3 L901.1 423.4 L901.6 421.4 L902.0 419.5 L902.5 417.5 L902.9 415.6 L903.4 413.6 L903.8 411.7 L904.3 409.7 L904.8 407.8 L905.2 405.9 L905.7 403.9 L906.2 402.0 L906.7 400.0 L907.2 398.1 L907.7 396.2 L908.2 394.2 L908.7 392.3 L909.3 390.4 L909.8 388.5 L910.4 386.5 L910.9 384.6 L911.4 382.7 L912.0 380.8 L912.6 378.9 L913.1 376.9 L913.7 375.0 L914.2 373.1 L914.8 371.2 L915.3 369.3 L915.9 367.3 L916.4 365.4 L917.0 363.5 L917.5 361.6 L918.0 359.7 L918.6 357.7 L919.1 355.8 L919.6 353.9 L920.2 352.0 L920.7 350.1 L921.3 348.1 L921.9 346.2 L922.5 344.3 L923.1 342.4 L923.7 340.5 L924.3 338.6 L924.9 336.7 L925.6 334.8 L926.3 332.9 L926.9 331.1 L927.6 329.2 L928.4 327.3 L929.1 325.4 L929.8 323.5 L930.6 321.6 L931.4 319.8 L932.2 317.9 L933.0 316.0 L933.8 314.2 L934.7 312.3 L935.6 310.4 L936.5 308.6 L937.4 306.7 L938.4 304.9 L939.4 303.1 L940.4 301.3 L941.5 299.5 L942.6 297.7 L943.7 296.0 L944.9 294.3 L946.1 292.7 L947.4 291.2 L948.7 289.7 L950.1 288.3 L951.6 286.9 L953.1 285.7 L954.6 284.6 L956.3 283.6 L957.9 282.8 L959.6 282.1 L961.4 281.6 L963.1 281.3 L964.9 281.2 L966.7 281.3 L968.5 281.6 L970.2 282.0 L972.0 282.7 L973.7 283.5 L975.4 284.4 L977.0 285.4 L978.6 286.6 L980.1 287.8 L981.6 289.2 L983.0 290.6 L984.4 292.1 L985.7 293.7 L986.9 295.3 L988.1 297.0 L989.2 298.7 L990.3 300.4 L991.3 302.2 L992.3 304.0 L993.3 305.9 L994.2 307.7 L995.1 309.6 L995.9 311.4 L996.8 313.3 L997.5 315.2 L998.3 317.1 L999.0 319.0 L999.8 320.9 L1000.5 322.8 L1001.2 324.7 L1001.8 326.6 L1002.5 328.5 L1003.1 330.4 L1003.8 332.3 L1004.4 334.2 L1005.0 336.2 L1005.6 338.1 L1006.3 340.0 L1006.9 341.9 L1007.4 343.8 L1008.0 345.7 L1008.6 347.6 L1009.2 349.5 L1009.7 351.5 L1010.3 353.4 L1010.8 355.3 L1011.3 357.2 L1011.8 359.2 L1012.4 361.1 L1012.9 363.0 L1013.4 364.9 L1013.9 366.9 L1014.5 368.8 L1015.0 370.7 L1015.5 372.6 L1016.1 374.6 L1016.6 376.5 L1017.2 378.4 L1017.7 380.3 L1018.3 382.2 L1018.9 384.2 L1019.4 386.1 L1020.0 388.0 L1020.6 389.9 L1021.2 391.8 L1021.8 393.7 L1022.4 395.6 L1022.9 397.6 L1023.5 399.5 L1024.1 401.4 L1024.7 403.3 L1025.4 405.2 L1026.0 407.1 L1026.6 409.0 L1027.2 410.9 L1027.8 412.8 L1028.4 414.7 L1029.0 416.6 L1029.6 418.5 L1030.2 420.4 L1030.9 422.3 L1031.5 424.2 L1032.1 426.1 L1032.7 428.1 L1033.2 430.0 L1033.8 431.9 L1034.4 433.8 L1035.0 435.7 L1035.6 437.6 L1036.1 439.5 L1036.7 441.4 L1037.3 443.4 L1037.8 445.3 L1038.3 447.2 L1038.9 449.1 L1039.4 451.1 L1039.9 453.0 L1040.4 454.9 L1040.9 456.9 L1041.4 458.8 L1041.8 460.8 L1042.3 462.7 L1042.8 464.6 L1043.2 466.6 L1043.6 468.5 L1044.1 470.5 L1044.5 472.4 L1044.9 474.4 L1045.3 476.4 L1045.7 478.3 L1046.1 480.3 L1046.5 482.2 L1046.9 484.2 L1047.3 486.1 L1047.7 488.1 L1048.1 490.1 L1048.5 492.0 L1048.9 494.0 L1049.3 495.9 L1049.7 497.9 L1050.1 499.9 L1050.5 501.8 L1050.9 503.8 L1051.3 505.7 L1051.7 507.7 L1052.1 509.7 L1052.5 511.6 L1052.9 513.6 L1053.3 515.5 L1053.7 517.5 L1054.1 519.5 L1054.5 521.4 L1054.9 523.4 L1055.3 525.4 L1055.7 527.3 L1056.0 529.3 L1056.4 531.2 L1056.8 533.2 L1057.2 535.2 L1057.6 537.1 L1057.9 539.1 L1058.3 541.1 L1058.7 543.0 L1059.1 545.0 L1059.4 547.0 L1059.8 548.9 L1060.2 550.9 L1060.6 552.8 L1060.9 554.8 L1061.3 556.8 L1061.7 558.7 L1062.1 560.7 L1062.5 562.7 L1062.9 564.6 L1063.3 566.6 L1063.7 568.5 L1064.1 570.5 L1064.5 572.4 L1064.9 574.4 L1065.3 576.4 L1065.8 578.3 L1066.2 580.3 L1066.6 582.2 L1067.0 584.2 L1067.5 586.1 L1067.9 588.1 L1068.3 590.0 L1068.8 592.0 L1069.2 593.9 L1069.7 595.9 L1070.1 597.8 L1070.5 599.8 L1071.0 601.7 L1071.4 603.7 L1071.8 605.6 L1072.3 607.6 L1072.7 609.5 L1073.2 611.5 L1073.6 613.4 L1074.0 615.4 L1074.5 617.4 L1074.9 619.3 L1075.3 621.3 L1075.7 623.2 L1076.2 625.2 L1076.6 627.1 L1077.0 629.1 L1077.4 631.0 L1077.8 633.0 L1078.3 634.9 L1078.7 636.9 L1079.1 638.9 L1079.5 640.8 L1079.9 642.8 L1080.2 644.7 L1080.6 646.7 L1081.0 648.7 L1081.4 650.6 L1081.8 652.6 L1082.2 654.5 L1082.6 656.5 L1083.0 658.5 L1083.4 660.4 L1083.7 662.4 L1084.1 664.4 L1084.5 666.3 L1084.9 668.3 L1085.4 670.2 L1085.8 672.2 L1086.2 674.1 L1086.6 676.1 L1087.0 678.1 L1087.4 680.0 L1087.9 682.0 L1088.3 683.9 L1088.7 685.9 L1089.2 687.8 L1089.6 689.8 L1090.0 691.7 L1090.5 693.7 L1090.9 695.6 L1091.4 697.6 L1091.8 699.5 L1092.3 701.5 L1092.7 703.4 L1093.2 705.4 L1093.6 707.3 L1094.1 709.3 L1094.5 711.2 L1095.0 713.2 L1095.4 715.1 L1095.9 717.1 L1096.3 719.0 L1096.8 720.9 L1097.2 722.9 L1097.7 724.8 L1098.1 726.8 L1098.6 728.7 L1099.0 730.7 L1099.5 732.6 L1099.9 734.6 L1100.3 736.5 L1100.8 738.5 L1101.2 740.4 L1101.6 742.4 L1102.0 744.4 L1102.4 746.3 L1102.9 748.3 L1103.3 750.2 L1103.7 752.2 L1104.1 754.1 L1104.5 756.1 L1104.9 758.0 L1105.3 760.0 L1105.7 762.0 L1106.1 763.9 L1106.6 765.9 L1107.0 767.8 L1107.4 769.8 L1107.9 771.7 L1108.3 773.7 L1108.7 775.6 L1109.2 777.6 L1109.6 779.5 L1110.1 781.5 L1110.5 783.4 L1111.0 785.4 L1111.4 787.3 L1111.9 789.3 L1112.3 791.2 L1112.8 793.2 L1113.3 795.1 L1113.7 797.0 L1114.2 799.0 L1114.6 800.9 L1115.1 802.9 L1115.6 804.8 L1116.1 806.8 L1116.5 808.7 L1117.0 810.7 L1117.5 812.6 L1117.9 814.5 L1118.4 816.5 L1118.9 818.4 L1119.4 820.4 L1119.9 822.3 L1120.3 824.2 L1120.8 826.2 L1121.3 828.1 L1121.8 830.1 L1122.3 832.0 L1122.7 834.0 L1123.2 835.9 L1123.7 837.8 L1124.1 839.8 L1124.6 841.7 L1125.1 843.7 L1125.5 845.6 L1126.0 847.6 L1126.4 849.5 L1126.9 851.5 L1127.3 853.4 L1127.8 855.4 L1128.2 857.3 L1128.7 859.3 L1129.1 861.2 L1129.6 863.1 L1130.1 865.1 L1130.5 867.0 L1131.0 869.0 L1131.5 870.9 L1132.0 872.8 L1132.5 874.8 L1133.0 876.7 L1133.5 878.7 L1134.0 880.6 L1134.5 882.5 L1135.0 884.5 L1135.5 886.4 L1136.0 888.3 L1136.6 890.3 L1137.1 892.2 L1137.6 894.1 L1138.1 896.0 L1138.7 898.0 L1139.2 899.9 L1139.7 901.8 L1140.3 903.8 L1140.8 905.7 L1141.3 907.6 L1141.9 909.5 L1142.4 911.5 L1143.0 913.4 L1143.5 915.3 L1144.0 917.2 L1144.6 919.2 L1145.1 921.1 L1145.7 923.0 L1146.2 924.9 L1146.7 926.9 L1147.3 928.8 L1147.8 930.7 L1148.4 932.6 L1148.9 934.6 L1149.4 936.5 L1150.0 938.4 L1150.5 940.3 L1151.0 942.3 L1151.6 944.2 L1152.1 946.1 L1152.6 948.1 L1153.1 950.0 L1153.7 951.9 L1154.2 953.9 L1154.7 955.8 L1155.3 957.7 L1155.8 959.6 L1156.3 961.6 L1156.9 963.5 L1157.4 965.4 L1158.0 967.3 L1158.5 969.3 L1159.1 971.2 L1159.6 973.1 L1160.2 975.0 L1160.8 976.9 L1161.3 978.8 L1161.9 980.8 L1162.5 982.7 L1163.1 984.6 L1163.7 986.5 L1164.3 988.4 L1164.9 990.3 L1165.5 992.2 L1166.1 994.1 L1166.7 996.0 L1167.3 997.9 L1167.9 999.8 L1168.6 1001.7 L1169.2 1003.6 L1169.9 1005.5 L1170.5 1007.4 L1171.2 1009.3 L1171.8 1011.2 L1172.5 1013.1 L1173.2 1014.9 L1173.8 1016.8 L1174.5 1018.7 L1175.2 1020.6 L1175.9 1022.5 L1176.6 1024.3 L1177.3 1026.2 L1178.0 1028.1 L1178.7 1030.0 L1179.4 1031.8 L1180.0 1033.7 L1180.7 1035.6 L1181.4 1037.5 L1182.1 1039.3 L1182.8 1041.2 L1183.5 1043.1 L1184.3 1044.9 L1185.0 1046.8 L1185.7 1048.7 L1186.4 1050.5 L1187.1 1052.4 L1187.9 1054.3 L1188.6 1056.1 L1189.4 1058.0 L1190.2 1059.8 L1190.9 1061.6 L1191.7 1063.5 L1192.5 1065.3 L1193.3 1067.2 L1194.1 1069.0 L1194.9 1070.8 L1195.7 1072.6 L1196.5 1074.5 L1197.4 1076.3 L1198.2 1078.1 L1199.0 1079.9 L1199.9 1081.7 L1200.7 1083.5 L1201.6 1085.3 L1202.4 1087.2 L1203.3 1089.0 L1204.1 1090.8 L1205.0 1092.6 L1205.8 1094.4 L1206.7 1096.2 L1207.5 1098.0 L1208.4 1099.8 L1209.3 1101.6 L1210.1 1103.4 L1211.0 1105.2 L1211.9 1107.0 L1212.7 1108.8 L1213.6 1110.6 L1214.5 1112.4 L1215.4 1114.2 L1216.3 1116.0 L1217.1 1117.8 L1218.0 1119.6 L1218.9 1121.4 L1219.8 1123.2 L1220.7 1125.0 L1221.6 1126.8 L1222.5 1128.5 L1223.4 1130.3 L1224.4 1132.1 L1225.3 1133.9 L1226.2 1135.6 L1227.1 1137.4 L1228.1 1139.2 L1229.0 1141.0 L1229.9 1142.7 L1230.9 1144.5 L1231.8 1146.2 L1232.8 1148.0 L1233.8 1149.8 L1234.7 1151.5 L1235.7 1153.3 L1236.7 1155.0 L1237.7 1156.7 L1238.6 1158.5 L1239.6 1160.2 L1240.6 1162.0 L1241.6 1163.7 L1242.6 1165.4 L1243.6 1167.2 L1244.7 1168.9 L1245.7 1170.6 L1246.7 1172.3 L1247.8 1174.0 L1248.8 1175.7 L1249.8 1177.4 L1250.9 1179.1 L1252.0 1180.8 L1253.1 1182.5 L1254.2 1184.2 L1255.3 1185.8 L1256.4 1187.5 L1257.5 1189.1 L1258.7 1190.8 L1259.8 1192.4 L1261.0 1194.0 L1262.1 1195.6 L1263.3 1197.2 L1264.5 1198.8 L1265.7 1200.4 L1267.0 1202.0 L1268.2 1203.6 L1269.5 1205.1 L1270.7 1206.7 L1272.0 1208.2 L1273.3 1209.8 L1274.6 1211.3 L1275.9 1212.8 L1277.2 1214.3 L1278.5 1215.8 L1279.8 1217.3 L1281.2 1218.8 L1282.5 1220.3 L1283.9 1221.7 L1285.3 1223.2 L1286.6 1224.7 L1288.0 1226.1 L1289.4 1227.5 L1290.8 1229.0 L1292.2 1230.4 L1293.6 1231.8 L1295.0 1233.2 L1296.5 1234.6 L1297.9 1236.0 L1299.3 1237.4 L1300.8 1238.7 L1302.3 1240.1 L1303.8 1241.4 L1305.3 1242.7 L1306.8 1244.0 L1308.3 1245.3 L1309.8 1246.6 L1311.3 1247.8 L1312.9 1249.1 L1314.5 1250.3 L1316.0 1251.5 L1317.6 1252.7 L1319.2 1254.0 L1320.7 1255.2 L1322.3 1256.4 L1323.9 1257.6 L1325.5 1258.8 L1327.0 1260.0 L1328.6 1261.2 L1330.2 1262.4 L1331.7 1263.6 L1333.3 1264.8 L1334.8 1266.1 L1336.3 1267.3 L1337.9 1268.6 L1339.4 1269.8 L1340.9 1271.1 L1342.4 1272.3 L1344.0 1273.5 L1345.5 1274.8 L1347.1 1276.0 L1348.6 1277.2 L1350.2 1278.3 L1351.8 1279.5 L1353.4 1280.7 L1355.0 1281.8 L1356.7 1282.9 L1358.3 1284.0 L1360.0 1285.1 L1361.6 1286.2 L1363.3 1287.2 L1365.0 1288.3 L1366.6 1289.3 L1368.3 1290.4 L1370.0 1291.4 L1371.7 1292.5 L1373.4 1293.5 L1375.1 1294.5 L1376.8 1295.6 L1378.5 1296.6 L1380.2 1297.7 L1381.9 1298.7 L1383.6 1299.8 L1385.3 1300.9 L1387.0 1302.0 L1388.6 1303.1 L1390.3 1304.2 L1391.9 1305.3 L1393.6 1306.4 L1395.3 1307.5 L1396.9 1308.6 L1398.5 1309.8 L1400.2 1310.9 L1401.8 1312.0 L1403.5 1313.1 L1405.1 1314.3 L1406.8 1315.4 L1408.4 1316.5 L1410.1 1317.6 L1411.7 1318.7 L1413.4 1319.8 L1415.0 1320.9 L1416.7 1322.0 L1418.4 1323.0 L1420.1 1324.0 L1421.8 1325.0 L1423.6 1326.0 L1425.3 1327.0 L1427.0 1328.0 L1428.8 1328.9 L1430.6 1329.8 L1432.3 1330.8 L1434.1 1331.7 L1435.9 1332.6 L1437.6 1333.5 L1439.4 1334.3 L1441.2 1335.2 L1443.0 1336.1 L1444.8 1337.0 L1446.6 1337.8 L1448.4 1338.7 L1450.2 1339.6 L1452.0 1340.5 L1453.8 1341.4 L1455.6 1342.2 L1457.4 1343.1 L1459.1 1344.0 L1460.9 1344.9 L1462.7 1345.8 L1464.5 1346.7 L1466.3 1347.6 L1468.1 1348.5 L1469.9 1349.3 L1471.7 1350.2 L1473.5 1351.1 L1475.3 1351.9 L1477.1 1352.7 L1478.9 1353.6 L1480.7 1354.4 L1482.6 1355.2 L1484.4 1356.0 L1486.2 1356.8 L1488.1 1357.5 L1489.9 1358.3 L1491.8 1359.0 L1493.6 1359.8 L1495.5 1360.5 L1497.4 1361.2 L1499.2 1361.9 L1501.1 1362.5 L1503.0 1363.2 L1504.9 1363.8 L1506.8 1364.5 L1508.7 1365.1 L1510.6 1365.7 L1512.5 1366.3 L1514.4 1366.9 L1516.3 1367.5 L1518.2 1368.1 L1520.1 1368.6 L1522.1 1369.2 L1524.0 1369.7 L1525.9 1370.2 L1527.9 1370.8 L1529.8 1371.3 L1531.7 1371.8 L1533.7 1372.3 L1535.6 1372.8 L1537.5 1373.3 L1539.5 1373.8 L1541.4 1374.3 L1543.3 1374.8 L1545.3 1375.3 L1547.2 1375.8 L1549.2 1376.3 L1551.1 1376.7 L1553.1 1377.2 L1555.0 1377.7 L1557.0 1378.2 L1558.9 1378.6 L1560.8 1379.1 L1562.8 1379.6 L1564.7 1380.0 L1566.7 1380.5 L1568.6 1380.9 L1570.6 1381.4 L1572.5 1381.8 L1574.5 1382.2 L1576.5 1382.7 L1578.4 1383.1 L1580.4 1383.5 L1582.3 1383.9 L1584.3 1384.3 L1586.2 1384.7 L1588.2 1385.1 L1590.2 1385.4 L1592.1 1385.8 L1594.1 1386.1 L1596.1 1386.5 L1598.0 1386.8 L1600.0 1387.2 L1602.0 1387.5 L1604.0 1387.8 L1605.9 1388.1 L1607.9 1388.3 L1609.9 1388.6 L1611.9 1388.9 L1613.9 1389.1 L1615.9 1389.4 L1617.8 1389.6 L1619.8 1389.8 L1621.8 1390.1 L1623.8 1390.3 L1625.8 1390.5 L1627.8 1390.7 L1629.8 1390.8 L1631.8 1391.0 L1633.8 1391.2 L1635.7 1391.4 L1637.7 1391.5 L1639.7 1391.7 L1641.7 1391.8 L1643.7 1391.9 L1645.7 1392.1 L1647.7 1392.2 L1649.7 1392.3 L1651.7 1392.4 L1653.7 1392.5 L1655.7 1392.6 L1657.7 1392.7 L1659.7 1392.8 L1661.7 1392.9 L1663.7 1393.0 L1665.7 1393.1 L1667.7 1393.2 L1669.7 1393.3 L1671.7 1393.4 L1673.7 1393.4 L1675.7 1393.5 L1677.7 1393.6 L1679.7 1393.7 L1681.7 1393.7 L1683.7 1393.8 L1685.7 1393.9 L1687.7 1394.0 L1689.7 1394.0 L1691.7 1394.1 L1693.7 1394.2 L1695.7 1394.3 L1697.7 1394.4 L1699.7 1394.5 L1701.7 1394.6 L1703.7 1394.7 L1705.7 1394.8 L1707.7 1395.0 L1709.6 1395.1 L1711.6 1395.2 L1713.6 1395.4 L1715.6 1395.5 L1717.6 1395.7 L1719.6 1395.8 L1721.6 1396.0 L1723.6 1396.1 L1725.6 1396.3 L1727.6 1396.5 L1729.6 1396.6 L1731.6 1396.8 L1733.6 1397.0 L1735.6 1397.2 L1737.5 1397.4 L1739.5 1397.6 L1741.5 1397.8 L1743.5 1398.0 L1745.5 1398.2 L1747.5 1398.4 L1749.5 1398.6 L1751.5 1398.8 L1753.5 1399.0 L1755.5 1399.2 L1757.4 1399.4 L1759.4 1399.6 L1761.4 1399.8 L1763.4 1400.0 L1765.4 1400.2 L1767.4 1400.4 L1769.4 1400.6 L1771.4 1400.8 L1773.4 1401.0 L1775.4 1401.2 L1777.4 1401.3 L1779.3 1401.5 L1781.3 1401.7 L1783.3 1401.9 L1785.3 1402.1 L1787.3 1402.2 L1789.3 1402.4 L1791.3 1402.6 L1793.3 1402.7 L1795.3 1402.9 L1797.3 1403.0 L1799.3 1403.2 L1801.3 1403.3 L1803.3 1403.5 L1805.3 1403.6 L1807.3 1403.7 L1809.2 1403.9 L1811.2 1404.0 L1813.2 1404.1 L1815.2 1404.2 L1817.2 1404.3 L1819.2 1404.4 L1821.2 1404.5 L1823.2 1404.6 L1825.2 1404.7 L1827.2 1404.7 L1829.2 1404.8 L1831.2 1404.9 L1833.2 1405.0 L1835.2 1405.0 L1837.2 1405.1 L1839.2 1405.2 L1841.2 1405.2 L1843.2 1405.3 L1845.2 1405.3 L1847.2 1405.4 L1849.2 1405.5 L1851.2 1405.5 L1853.2 1405.5 L1855.2 1405.6 L1857.2 1405.6 L1859.2 1405.7 L1861.2 1405.7 L1863.2 1405.7 L1865.2 1405.8 L1867.2 1405.8 L1869.2 1405.8 L1871.2 1405.8 L1873.2 1405.9 L1875.2 1405.9 L1877.2 1405.9 L1879.2 1405.9 L1881.2 1405.9 L1883.2 1405.9 L1885.2 1406.0 L1887.2 1406.0 L1889.2 1406.0 L1891.2 1406.0 L1893.2 1406.0 L1895.2 1406.0 L1897.2 1406.0 L1899.2 1406.0 L1901.2 1406.0 L1903.2 1406.0 L1905.2 1406.0 L1907.2 1406.0 L1909.2 1406.0 L1911.2 1406.0 L1913.2 1406.0 L1915.2 1406.0 L1917.2 1406.0 L1919.2 1406.0 L1921.2 1405.9 L1923.2 1405.9 L1925.2 1405.9" stroke="#ff0000"/>
<path d="M281.0 1390.8 L283.0 1390.6 L285.0 1390.5 L287.0 1390.3 L289.0 1390.2 L291.0 1390.0 L293.0 1389.9 L295.0 1389.7 L297.0 1389.6 L299.0 1389.4 L301.0 1389.2 L303.0 1389.0 L305.0 1388.8 L306.9 1388.6 L308.9 1388.4 L310.9 1388.2 L312.9 1388.0 L314.9 1387.8 L316.9 1387.6 L318.9 1387.3 L320.9 1387.1 L322.8 1386.8 L324.8 1386.6 L326.8 1386.3 L328.8 1386.0 L330.8 1385.7 L332.8 1385.4 L334.7 1385.1 L336.7 1384.8 L338.7 1384.5 L340.7 1384.1 L342.6 1383.8 L344.6 1383.4 L346.6 1383.1 L348.5 1382.7 L350.5 1382.3 L352.4 1381.9 L354.4 1381.4 L356.3 1381.0 L358.3 1380.5 L360.2 1380.1 L362.2 1379.6 L364.1 1379.1 L366.0 1378.5 L368.0 1378.0 L369.9 1377.5 L371.8 1376.9 L373.7 1376.3 L375.6 1375.7 L377.5 1375.1 L379.4 1374.4 L381.3 1373.8 L383.2 1373.1 L385.1 1372.4 L386.9 1371.7 L388.8 1370.9 L390.6 1370.2 L392.5 1369.4 L394.3 1368.6 L396.1 1367.8 L397.9 1366.9 L399.7 1366.1 L401.5 1365.2 L403.3 1364.3 L405.1 1363.4 L406.8 1362.4 L408.6 1361.5 L410.3 1360.5 L412.1 1359.5 L413.8 1358.5 L415.5 1357.4 L417.2 1356.4 L418.9 1355.3 L420.6 1354.2 L422.3 1353.1 L423.9 1352.0 L425.6 1350.9 L427.2 1349.8 L428.9 1348.6 L430.5 1347.4 L432.1 1346.2 L433.7 1345.0 L435.3 1343.8 L436.8 1342.6 L438.4 1341.3 L439.9 1340.1 L441.5 1338.8 L443.0 1337.5 L444.5 1336.2 L446.0 1334.9 L447.5 1333.5 L449.0 1332.2 L450.4 1330.8 L451.8 1329.4 L453.3 1328.0 L454.7 1326.6 L456.0 1325.2 L457.4 1323.7 L458.8 1322.3 L460.1 1320.8 L461.5 1319.3 L462.8 1317.8 L464.1 1316.3 L465.4 1314.8 L466.7 1313.3 L468.0 1311.7 L469.3 1310.2 L470.5 1308.7 L471.8 1307.1 L473.1 1305.6 L474.3 1304.0 L475.6 1302.4 L476.8 1300.9 L478.0 1299.3 L479.3 1297.7 L480.5 1296.1 L481.7 1294.5 L482.9 1292.9 L484.1 1291.3 L485.3 1289.7 L486.5 1288.1 L487.7 1286.5 L488.8 1284.9 L490.0 1283.3 L491.2 1281.6 L492.3 1280.0 L493.5 1278.4 L494.6 1276.8 L495.8 1275.1 L496.9 1273.5 L498.1 1271.8 L499.2 1270.2 L500.4 1268.6 L501.5 1266.9 L502.7 1265.3 L503.8 1263.6 L505.0 1262.0 L506.1 1260.4 L507.3 1258.7 L508.4 1257.1 L509.5 1255.4 L510.7 1253.8 L511.8 1252.1 L513.0 1250.5 L514.1 1248.9 L515.2 1247.2 L516.4 1245.6 L517.5 1243.9 L518.6 1242.3 L519.7 1240.6 L520.9 1238.9 L522.0 1237.3 L523.1 1235.6 L524.2 1233.9 L525.3 1232.3 L526.4 1230.6 L527.5 1228.9 L528.6 1227.3 L529.6 1225.6 L530.7 1223.9 L531.8 1222.2 L532.9 1220.5 L533.9 1218.8 L535.0 1217.1 L536.0 1215.4 L537.1 1213.7 L538.1 1212.0 L539.2 1210.3 L540.2 1208.6 L541.2 1206.9 L542.3 1205.2 L543.3 1203.5 L544.3 1201.7 L545.4 1200.0 L546.4 1198.3 L547.4 1196.6 L548.4 1194.9 L549.5 1193.1 L550.5 1191.4 L551.5 1189.7 L552.5 1188.0 L553.5 1186.3 L554.5 1184.5 L555.6 1182.8 L556.6 1181.1 L557.6 1179.4 L558.6 1177.6 L559.6 1175.9 L560.6 1174.2 L561.7 1172.5 L562.7 1170.8 L563.7 1169.0 L564.7 1167.3 L565.8 1165.6 L566.8 1163.9 L567.8 1162.2 L568.9 1160.5 L569.9 1158.8 L571.0 1157.1 L572.0 1155.4 L573.1 1153.7 L574.1 1152.0 L575.2 1150.3 L576.2 1148.6 L577.3 1146.9 L578.4 1145.2 L579.4 1143.5 L580.5 1141.8 L581.6 1140.2 L582.7 1138.5 L583.8 1136.8 L584.9 1135.2 L586.0 1133.5 L587.2 1131.8 L588.3 1130.2 L589.4 1128.6 L590.6 1126.9 L591.7 1125.3 L592.9 1123.7 L594.1 1122.0 L595.2 1120.4 L596.4 1118.8 L597.6 1117.2 L598.8 1115.6 L600.0 1114.0 L601.1 1112.4 L602.3 1110.8 L603.5 1109.2 L604.8 1107.6 L606.0 1106.0 L607.2 1104.4 L608.4 1102.8 L609.6 1101.2 L610.9 1099.7 L612.1 1098.1 L613.3 1096.5 L614.6 1095.0 L615.8 1093.4 L617.1 1091.8 L618.4 1090.3 L619.6 1088.7 L620.9 1087.2 L622.1 1085.6 L623.4 1084.1 L624.7 1082.5 L626.0 1081.0 L627.2 1079.5 L628.5 1077.9 L629.8 1076.4 L631.0 1074.8 L632.3 1073.3 L633.6 1071.7 L634.8 1070.2 L636.1 1068.6 L637.3 1067.1 L638.6 1065.5 L639.8 1064.0 L641.1 1062.4 L642.3 1060.8 L643.5 1059.3 L644.8 1057.7 L646.0 1056.1 L647.2 1054.5 L648.4 1053.0 L649.7 1051.4 L650.9 1049.8 L652.1 1048.3 L653.4 1046.8 L654.7 1045.2 L655.9 1043.7 L657.2 1042.2 L658.5 1040.7 L659.9 1039.2 L661.2 1037.8 L662.5 1036.3 L663.9 1034.9 L665.3 1033.4 L666.7 1032.0 L668.1 1030.6 L669.5 1029.2 L670.9 1027.8 L672.4 1026.5 L673.8 1025.1 L675.3 1023.7 L676.8 1022.4 L678.2 1021.1 L679.7 1019.7 L681.2 1018.4 L682.7 1017.0 L684.2 1015.7 L685.6 1014.4 L687.1 1013.0 L688.6 1011.7 L690.1 1010.3 L691.6 1009.0 L693.1 1007.6 L694.5 1006.3 L696.0 1004.9 L697.5 1003.6 L699.0 1002.2 L700.4 1000.9 L701.9 999.5 L703.4 998.1 L704.8 996.8 L706.3 995.4 L707.7 994.0 L709.2 992.6 L710.6 991.2 L712.0 989.8 L713.5 988.4 L714.9 987.0 L716.3 985.6 L717.7 984.1 L719.0 982.7 L720.4 981.2 L721.8 979.8 L723.1 978.3 L724.5 976.8 L725.8 975.3 L727.1 973.8 L728.4 972.3 L729.6 970.7 L730.9 969.2 L732.1 967.6 L733.3 966.0 L734.5 964.4 L735.7 962.8 L736.9 961.2 L738.0 959.6 L739.1 958.0 L740.2 956.3 L741.3 954.6 L742.4 952.9 L743.4 951.3 L744.5 949.6 L745.5 947.8 L746.5 946.1 L747.4 944.4 L748.4 942.6 L749.3 940.9 L750.3 939.1 L751.2 937.4 L752.2 935.6 L753.1 933.8 L754.0 932.1 L754.9 930.3 L755.8 928.5 L756.7 926.7 L757.6 924.9 L758.5 923.1 L759.3 921.3 L760.2 919.5 L761.0 917.7 L761.9 915.9 L762.7 914.1 L763.6 912.2 L764.4 910.4 L765.2 908.6 L766.0 906.8 L766.8 904.9 L767.6 903.1 L768.4 901.3 L769.2 899.4 L769.9 897.6 L770.7 895.7 L771.5 893.9 L772.2 892.0 L773.0 890.2 L773.7 888.3 L774.5 886.4 L775.2 884.6 L775.9 882.7 L776.7 880.8 L777.4 879.0 L778.1 877.1 L778.8 875.2 L779.5 873.4 L780.2 871.5 L780.9 869.6 L781.6 867.7 L782.3 865.9 L783.0 864.0 L783.7 862.1 L784.3 860.2 L785.0 858.3 L785.7 856.5 L786.3 854.6 L787.0 852.7 L787.7 850.8 L788.3 848.9 L789.0 847.0 L789.6 845.1 L790.2 843.2 L790.8 841.3 L791.5 839.4 L792.1 837.5 L792.7 835.6 L793.3 833.7 L793.9 831.8 L794.5 829.9 L795.0 828.0 L795.6 826.1 L796.2 824.1 L796.8 822.2 L797.3 820.3 L797.9 818.4 L798.5 816.5 L799.0 814.5 L799.6 812.6 L800.1 810.7 L800.6 808.8 L801.2 806.8 L801.7 804.9 L802.3 803.0 L802.8 801.1 L803.3 799.1 L803.9 797.2 L804.4 795.3 L804.9 793.3 L805.4 791.4 L806.0 789.5 L806.5 787.6 L807.0 785.6 L807.5 783.7 L808.0 781.8 L808.5 779.8 L809.0 777.9 L809.5 775.9 L810.0 774.0 L810.5 772.1 L811.0 770.1 L811.5 768.2 L812.0 766.3 L812.5 764.3 L813.0 762.4 L813.4 760.4 L813.9 758.5 L814.4 756.5 L814.8 754.6 L815.3 752.7 L815.8 750.7 L816.2 748.8 L816.7 746.8 L817.1 744.9 L817.6 742.9 L818.0 741.0 L818.4 739.0 L818.9 737.1 L819.3 735.1 L819.8 733.2 L820.2 731.2 L820.6 729.3 L821.1 727.3 L821.5 725.4 L821.9 723.4 L822.4 721.4 L822.8 719.5 L823.2 717.5 L823.6 715.6 L824.1 713.6 L824.5 711.7 L824.9 709.7 L825.3 707.8 L825.7 705.8 L826.1 703.8 L826.5 701.9 L826.9 699.9 L827.3 698.0 L827.7 696.0 L828.1 694.0 L828.5 692.1 L828.9 690.1 L829.3 688.2 L829.7 686.2 L830.0 684.2 L830.4 682.3 L830.8 680.3 L831.2 678.3 L831.6 676.4 L831.9 674.4 L832.3 672.4 L832.7 670.5 L833.1 668.5 L833.4 666.6 L833.8 664.6 L834.2 662.6 L834.5 660.7 L834.9 658.7 L835.3 656.7 L835.6 654.8 L836.0 652.8 L836.4 650.8 L836.7 648.9 L837.1 646.9 L837.5 644.9 L837.8 643.0 L838.2 641.0 L838.6 639.0 L839.0 637.1 L839.3 635.1 L839.7 633.1 L840.1 631.2 L840.5 629.2 L840.9 627.2 L841.2 625.3 L841.6 623.3 L842.0 621.4 L842.4 619.4 L842.8 617.4 L843.2 615.5 L843.6 613.5 L844.0 611.6 L844.4 609.6 L844.7 607.6 L845.1 605.7 L845.5 603.7 L845.9 601.7 L846.3 599.8 L846.7 597.8 L847.1 595.9 L847.5 593.9 L847.9 591.9 L848.3 590.0 L848.7 588.0 L849.0 586.1 L849.4 584.1 L849.8 582.1 L850.2 580.2 L850.6 578.2 L851.0 576.2 L851.3 574.3 L851.7 572.3 L852.1 570.4 L852.5 568.4 L852.8 566.4 L853.2 564.5 L853.6 562.5 L853.9 560.5 L854.3 558.6 L854.7 556.6 L855.0 554.6 L855.4 552.7 L855.7 550.7 L856.1 548.7 L856.4 546.7 L856.8 544.8 L857.1 542.8 L857.5 540.8 L857.8 538.9 L858.2 536.9 L858.5 534.9 L858.9 533.0 L859.2 531.0 L859.6 529.0 L859.9 527.1 L860.3 525.1 L860.6 523.1 L861.0 521.1 L861.3 519.2 L861.7 517.2 L862.0 515.2 L862.3 513.3 L862.7 511.3 L863.0 509.3 L863.4 507.4 L863.7 505.4 L864.1 503.4 L864.4 501.4 L864.8 499.5 L865.1 497.5 L865.5 495.5 L865.8 493.6 L866.2 491.6 L866.5 489.6 L866.9 487.7 L867.2 485.7 L867.6 483.7 L867.9 481.8 L868.3 479.8 L868.6 477.8 L869.0 475.8 L869.3 473.9 L869.7 471.9 L870.0 469.9 L870.4 468.0 L870.7 466.0 L871.1 464.0 L871.4 462.1 L871.8 460.1 L872.1 458.1 L872.5 456.2 L872.8 454.2 L873.2 452.2 L873.6 450.3 L873.9 448.3 L874.3 446.3 L874.6 444.3 L875.0 442.4 L875.3 440.4 L875.7 438.4 L876.0 436.5 L876.4 434.5 L876.7 432.5 L877.1 430.6 L877.4 428.6 L877.8 426.6 L878.1 424.7 L878.4 422.7 L878.8 420.7 L879.1 418.7 L879.5 416.8 L879.8 414.8 L880.2 412.8 L880.5 410.9 L880.8 408.9 L881.2 406.9 L881.5 405.0 L881.9 403.0 L882.2 401.0 L882.6 399.0 L882.9 397.1 L883.3 395.1 L883.6 393.1 L884.0 391.2 L884.4 389.2 L884.7 387.2 L885.1 385.3 L885.5 383.3 L885.9 381.4 L886.3 379.4 L886.6 377.4 L887.0 375.5 L887.4 373.5 L887.8 371.5 L888.2 369.6 L888.6 367.6 L889.0 365.7 L889.4 363.7 L889.7 361.7 L890.1 359.8 L890.5 357.8 L890.9 355.8 L891.2 353.9 L891.6 351.9 L892.0 349.9 L892.3 348.0 L892.7 346.0 L893.1 344.0 L893.4 342.1 L893.8 340.1 L894.1 338.1 L894.5 336.2 L894.9 334.2 L895.2 332.2 L895.6 330.3 L896.0 328.3 L896.4 326.3 L896.8 324.4 L897.1 322.4 L897.5 320.5 L898.0 318.5 L898.4 316.6 L898.8 314.6 L899.2 312.7 L899.7 310.7 L900.1 308.8 L900.6 306.8 L901.1 304.9 L901.6 302.9 L902.0 301.0 L902.5 299.1 L903.0 297.1 L903.5 295.2 L904.0 293.2 L904.5 291.3 L905.0 289.4 L905.4 287.4 L905.9 285.5 L906.4 283.5 L906.8 281.6 L907.3 279.6 L907.7 277.7 L908.2 275.7 L908.6 273.8 L909.0 271.8 L909.4 269.9 L909.8 267.9 L910.2 266.0 L910.7 264.0 L911.1 262.0 L911.5 260.1 L911.9 258.1 L912.3 256.2 L912.7 254.2 L913.2 252.3 L913.6 250.3 L914.1 248.4 L914.6 246.5 L915.1 244.5 L915.6 242.6 L916.2 240.7 L916.7 238.8 L917.2 236.8 L917.8 234.9 L918.3 233.0 L918.9 231.1 L919.4 229.1 L920.0 227.2 L920.6 225.3 L921.1 223.4 L921.7 221.5 L922.3 219.5 L922.9 217.6 L923.5 215.7 L924.1 213.8 L924.7 211.9 L925.3 210.0 L925.9 208.1 L926.6 206.2 L927.2 204.3 L927.9 202.5 L928.6 200.6 L929.3 198.7 L930.0 196.9 L930.7 195.0 L931.5 193.2 L932.3 191.3 L933.1 189.5 L933.9 187.7 L934.7 185.9 L935.6 184.1 L936.4 182.3 L937.3 180.5 L938.1 178.7 L939.0 176.9 L939.8 175.1 L940.6 173.2 L941.5 171.4 L942.3 169.6 L943.2 167.7 L944.0 165.9 L944.9 164.0 L945.8 162.2 L946.8 160.4 L947.8 158.6 L948.9 156.9 L950.0 155.2 L951.2 153.6 L952.5 152.0 L953.8 150.5 L955.2 149.1 L956.7 147.8 L958.3 146.6 L959.9 145.5 L961.6 144.7 L963.3 144.0 L965.1 143.5 L966.9 143.2 L968.7 143.2 L970.5 143.4 L972.3 143.8 L974.0 144.5 L975.7 145.3 L977.4 146.3 L978.9 147.4 L980.5 148.7 L981.9 150.0 L983.2 151.5 L984.5 153.1 L985.7 154.7 L986.8 156.4 L987.9 158.1 L988.9 159.9 L989.9 161.7 L990.9 163.5 L991.8 165.3 L992.6 167.2 L993.5 169.0 L994.3 170.9 L995.1 172.7 L996.0 174.6 L996.8 176.5 L997.5 178.3 L998.3 180.2 L999.1 182.0 L999.9 183.9 L1000.6 185.7 L1001.4 187.6 L1002.2 189.5 L1002.9 191.3 L1003.6 193.2 L1004.3 195.0 L1005.0 196.9 L1005.6 198.8 L1006.2 200.7 L1006.8 202.6 L1007.4 204.5 L1008.0 206.4 L1008.6 208.3 L1009.1 210.2 L1009.7 212.2 L1010.3 214.1 L1010.8 216.0 L1011.4 217.9 L1011.9 219.8 L1012.5 221.8 L1013.0 223.7 L1013.6 225.6 L1014.2 227.5 L1014.7 229.4 L1015.3 231.4 L1015.8 233.3 L1016.3 235.2 L1016.8 237.1 L1017.4 239.1 L1017.9 241.0 L1018.4 243.0 L1018.8 244.9 L1019.3 246.8 L1019.8 248.8 L1020.2 250.7 L1020.7 252.7 L1021.1 254.6 L1021.6 256.6 L1022.0 258.5 L1022.4 260.5 L1022.8 262.4 L1023.3 264.4 L1023.7 266.3 L1024.1 268.3 L1024.5 270.3 L1025.0 272.2 L1025.4 274.2 L1025.8 276.1 L1026.3 278.1 L1026.7 280.0 L1027.2 282.0 L1027.6 283.9 L1028.1 285.9 L1028.6 287.8 L1029.0 289.7 L1029.5 291.7 L1030.0 293.6 L1030.4 295.6 L1030.9 297.5 L1031.4 299.5 L1031.8 301.4 L1032.3 303.4 L1032.8 305.3 L1033.2 307.3 L1033.7 309.2 L1034.1 311.1 L1034.6 313.1 L1035.0 315.0 L1035.5 317.0 L1036.0 318.9 L1036.4 320.9 L1036.9 322.8 L1037.3 324.8 L1037.8 326.7 L1038.2 328.7 L1038.7 330.6 L1039.1 332.6 L1039.6 334.5 L1040.0 336.5 L1040.4 338.4 L1040.9 340.4 L1041.3 342.3 L1041.7 344.3 L1042.1 346.2 L1042.5 348.2 L1042.9 350.2 L1043.2 352.1 L1043.6 354.1 L1044.0 356.1 L1044.4 358.0 L1044.7 360.0 L1045.1 361.9 L1045.5 363.9 L1045.9 365.9 L1046.3 367.8 L1046.7 369.8 L1047.1 371.7 L1047.5 373.7 L1047.9 375.7 L1048.3 377.6 L1048.7 379.6 L1049.1 381.5 L1049.5 383.5 L1049.9 385.4 L1050.3 387.4 L1050.8 389.4 L1051.2 391.3 L1051.6 393.3 L1052.0 395.2 L1052.4 397.2 L1052.8 399.1 L1053.3 401.1 L1053.7 403.0 L1054.1 405.0 L1054.5 407.0 L1054.9 408.9 L1055.4 410.9 L1055.8 412.8 L1056.2 414.8 L1056.6 416.7 L1057.1 418.7 L1057.5 420.6 L1057.9 422.6 L1058.4 424.5 L1058.8 426.5 L1059.2 428.4 L1059.7 430.4 L1060.1 432.3 L1060.5 434.3 L1060.9 436.3 L1061.4 438.2 L1061.8 440.2 L1062.2 442.1 L1062.6 444.1 L1063.0 446.0 L1063.4 448.0 L1063.8 450.0 L1064.2 451.9 L1064.6 453.9 L1065.0 455.8 L1065.4 457.8 L1065.8 459.8 L1066.2 461.7 L1066.6 463.7 L1067.0 465.6 L1067.4 467.6 L1067.8 469.6 L1068.2 471.5 L1068.5 473.5 L1068.9 475.4 L1069.3 477.4 L1069.7 479.4 L1070.0 481.3 L1070.4 483.3 L1070.8 485.3 L1071.2 487.2 L1071.5 489.2 L1071.9 491.2 L1072.2 493.1 L1072.6 495.1 L1073.0 497.1 L1073.3 499.0 L1073.7 501.0 L1074.0 503.0 L1074.4 505.0 L1074.7 506.9 L1075.0 508.9 L1075.4 510.9 L1075.7 512.8 L1076.1 514.8 L1076.4 516.8 L1076.7 518.7 L1077.1 520.7 L1077.4 522.7 L1077.7 524.7 L1078.1 526.6 L1078.4 528.6 L1078.7 530.6 L1079.1 532.6 L1079.4 534.5 L1079.7 536.5 L1080.0 538.5 L1080.4 540.4 L1080.7 542.4 L1081.0 544.4 L1081.3 546.4 L1081.7 548.3 L1082.0 550.3 L1082.3 552.3 L1082.7 554.3 L1083.0 556.2 L1083.3 558.2 L1083.7 560.2 L1084.0 562.1 L1084.4 564.1 L1084.7 566.1 L1085.1 568.0 L1085.4 570.0 L1085.8 572.0 L1086.1 573.9 L1086.5 575.9 L1086.9 577.9 L1087.3 579.8 L1087.6 581.8 L1088.0 583.8 L1088.4 585.7 L1088.8 587.7 L1089.2 589.7 L1089.6 591.6 L1089.9 593.6 L1090.3 595.5 L1090.7 597.5 L1091.1 599.5 L1091.5 601.4 L1091.9 603.4 L1092.3 605.3 L1092.7 607.3 L1093.1 609.3 L1093.5 611.2 L1093.8 613.2 L1094.2 615.2 L1094.6 617.1 L1095.0 619.1 L1095.4 621.0 L1095.8 623.0 L1096.1 625.0 L1096.5 626.9 L1096.9 628.9 L1097.3 630.9 L1097.6 632.8 L1098.0 634.8 L1098.3 636.8 L1098.7 638.7 L1099.0 640.7 L1099.4 642.7 L1099.7 644.6 L1100.1 646.6 L1100.4 648.6 L1100.8 650.5 L1101.1 652.5 L1101.5 654.5 L1101.8 656.5 L1102.2 658.4 L1102.5 660.4 L1102.9 662.4 L1103.2 664.3 L1103.6 666.3 L1103.9 668.3 L1104.3 670.2 L1104.7 672.2 L1105.0 674.2 L1105.4 676.1 L1105.8 678.1 L1106.2 680.0 L1106.6 682.0 L1107.0 684.0 L1107.4 685.9 L1107.8 687.9 L1108.2 689.8 L1108.6 691.8 L1109.0 693.7 L1109.5 695.7 L1109.9 697.7 L1110.3 699.6 L1110.8 701.6 L1111.2 703.5 L1111.6 705.5 L1112.1 707.4 L1112.5 709.4 L1112.9 711.3 L1113.4 713.3 L1113.8 715.2 L1114.3 717.2 L1114.7 719.1 L1115.2 721.1 L1115.6 723.0 L1116.0 725.0 L1116.5 726.9 L1116.9 728.9 L1117.3 730.8 L1117.8 732.8 L1118.2 734.7 L1118.6 736.7 L1119.1 738.6 L1119.5 740.6 L1119.9 742.6 L1120.3 744.5 L1120.7 746.5 L1121.1 748.4 L1121.5 750.4 L1121.9 752.3 L1122.3 754.3 L1122.7 756.3 L1123.1 758.2 L1123.6 760.2 L1124.0 762.1 L1124.4 764.1 L1124.8 766.0 L1125.2 768.0 L1125.6 770.0 L1126.0 771.9 L1126.4 773.9 L1126.9 775.8 L1127.3 777.8 L1127.7 779.7 L1128.1 781.7 L1128.6 783.6 L1129.0 785.6 L1129.4 787.5 L1129.9 789.5 L1130.3 791.4 L1130.8 793.4 L1131.2 795.3 L1131.7 797.3 L1132.1 799.2 L1132.6 801.2 L1133.0 803.1 L1133.5 805.1 L1134.0 807.0 L1134.5 809.0 L1134.9 810.9 L1135.4 812.8 L1135.9 814.8 L1136.4 816.7 L1136.9 818.7 L1137.4 820.6 L1137.9 822.5 L1138.4 824.5 L1138.9 826.4 L1139.4 828.3 L1139.9 830.3 L1140.4 832.2 L1140.9 834.1 L1141.4 836.1 L1142.0 838.0 L1142.5 839.9 L1143.0 841.9 L1143.5 843.8 L1144.0 845.7 L1144.5 847.7 L1145.0 849.6 L1145.5 851.5 L1145.9 853.5 L1146.4 855.4 L1146.9 857.4 L1147.4 859.3 L1147.9 861.2 L1148.4 863.2 L1148.9 865.1 L1149.4 867.0 L1149.9 869.0 L1150.4 870.9 L1150.9 872.8 L1151.5 874.8 L1152.0 876.7 L1152.5 878.7 L1153.0 880.6 L1153.5 882.5 L1154.0 884.5 L1154.5 886.4 L1155.0 888.3 L1155.5 890.3 L1156.0 892.2 L1156.5 894.1 L1157.0 896.1 L1157.5 898.0 L1158.0 899.9 L1158.5 901.9 L1159.0 903.8 L1159.5 905.8 L1160.0 907.7 L1160.5 909.6 L1161.0 911.6 L1161.5 913.5 L1162.0 915.4 L1162.5 917.4 L1163.0 919.3 L1163.5 921.2 L1164.0 923.2 L1164.5 925.1 L1165.0 927.0 L1165.5 929.0 L1166.1 930.9 L1166.6 932.8 L1167.1 934.8 L1167.6 936.7 L1168.1 938.6 L1168.7 940.6 L1169.2 942.5 L1169.7 944.4 L1170.3 946.3 L1170.8 948.3 L1171.4 950.2 L1171.9 952.1 L1172.5 954.0 L1173.0 956.0 L1173.6 957.9 L1174.1 959.8 L1174.7 961.7 L1175.2 963.6 L1175.8 965.6 L1176.4 967.5 L1176.9 969.4 L1177.5 971.3 L1178.1 973.2 L1178.7 975.1 L1179.2 977.1 L1179.8 979.0 L1180.4 980.9 L1181.0 982.8 L1181.6 984.7 L1182.2 986.6 L1182.8 988.5 L1183.4 990.4 L1184.0 992.3 L1184.6 994.2 L1185.2 996.2 L1185.8 998.1 L1186.4 1000.0 L1187.1 1001.9 L1187.7 1003.8 L1188.3 1005.7 L1189.0 1007.6 L1189.6 1009.4 L1190.2 1011.3 L1190.9 1013.2 L1191.5 1015.1 L1192.2 1017.0 L1192.8 1018.9 L1193.5 1020.8 L1194.2 1022.7 L1194.8 1024.6 L1195.5 1026.4 L1196.2 1028.3 L1196.9 1030.2 L1197.6 1032.1 L1198.2 1034.0 L1198.9 1035.9 L1199.6 1037.7 L1200.3 1039.6 L1201.0 1041.5 L1201.7 1043.4 L1202.4 1045.2 L1203.1 1047.1 L1203.8 1049.0 L1204.5 1050.8 L1205.2 1052.7 L1206.0 1054.6 L1206.7 1056.4 L1207.4 1058.3 L1208.2 1060.2 L1208.9 1062.0 L1209.7 1063.9 L1210.5 1065.7 L1211.2 1067.5 L1212.0 1069.4 L1212.8 1071.2 L1213.6 1073.0 L1214.4 1074.9 L1215.3 1076.7 L1216.1 1078.5 L1216.9 1080.3 L1217.8 1082.1 L1218.7 1083.9 L1219.5 1085.7 L1220.4 1087.5 L1221.3 1089.3 L1222.3 1091.0 L1223.2 1092.8 L1224.1 1094.6 L1225.1 1096.3 L1226.1 1098.1 L1227.0 1099.8 L1228.0 1101.5 L1229.0 1103.3 L1230.0 1105.0 L1231.0 1106.7 L1232.0 1108.5 L1233.0 1110.2 L1234.0 1111.9 L1235.0 1113.7 L1236.0 1115.4 L1237.0 1117.1 L1238.0 1118.8 L1239.0 1120.6 L1240.0 1122.3 L1241.0 1124.0 L1242.0 1125.8 L1243.0 1127.5 L1244.0 1129.3 L1245.0 1131.0 L1246.0 1132.7 L1246.9 1134.5 L1247.9 1136.2 L1248.9 1138.0 L1249.8 1139.7 L1250.8 1141.5 L1251.7 1143.3 L1252.7 1145.0 L1253.6 1146.8 L1254.6 1148.6 L1255.5 1150.3 L1256.5 1152.1 L1257.4 1153.8 L1258.4 1155.6 L1259.3 1157.4 L1260.3 1159.1 L1261.3 1160.9 L1262.2 1162.6 L1263.2 1164.3 L1264.2 1166.1 L1265.2 1167.8 L1266.3 1169.5 L1267.3 1171.2 L1268.3 1172.9 L1269.4 1174.6 L1270.4 1176.3 L1271.5 1178.0 L1272.6 1179.7 L1273.7 1181.3 L1274.8 1183.0 L1275.9 1184.6 L1277.1 1186.3 L1278.2 1187.9 L1279.4 1189.5 L1280.6 1191.1 L1281.8 1192.7 L1283.0 1194.3 L1284.2 1195.9 L1285.4 1197.5 L1286.7 1199.0 L1287.9 1200.6 L1289.2 1202.1 L1290.4 1203.6 L1291.7 1205.2 L1293.0 1206.7 L1294.3 1208.2 L1295.6 1209.7 L1296.9 1211.1 L1298.3 1212.6 L1299.6 1214.1 L1301.0 1215.5 L1302.4 1216.9 L1303.7 1218.3 L1305.2 1219.7 L1306.6 1221.1 L1308.0 1222.4 L1309.5 1223.8 L1311.0 1225.1 L1312.4 1226.5 L1313.9 1227.8 L1315.4 1229.1 L1316.9 1230.4 L1318.4 1231.7 L1319.9 1233.0 L1321.4 1234.3 L1322.9 1235.6 L1324.4 1236.9 L1326.0 1238.2 L1327.5 1239.5 L1329.0 1240.8 L1330.6 1242.0 L1332.1 1243.3 L1333.7 1244.6 L1335.2 1245.8 L1336.8 1247.1 L1338.3 1248.3 L1339.9 1249.6 L1341.5 1250.8 L1343.0 1252.0 L1344.6 1253.3 L1346.2 1254.5 L1347.8 1255.7 L1349.3 1257.0 L1350.9 1258.2 L1352.5 1259.4 L1354.1 1260.7 L1355.7 1261.9 L1357.2 1263.1 L1358.8 1264.3 L1360.4 1265.6 L1362.0 1266.8 L1363.6 1268.0 L1365.1 1269.2 L1366.7 1270.5 L1368.3 1271.7 L1369.9 1272.9 L1371.5 1274.1 L1373.1 1275.4 L1374.7 1276.6 L1376.2 1277.8 L1377.8 1279.0 L1379.4 1280.2 L1381.0 1281.5 L1382.6 1282.7 L1384.2 1283.9 L1385.7 1285.1 L1387.3 1286.4 L1388.9 1287.6 L1390.5 1288.8 L1392.1 1290.0 L1393.7 1291.2 L1395.3 1292.5 L1396.8 1293.7 L1398.4 1294.9 L1400.0 1296.1 L1401.6 1297.3 L1403.2 1298.5 L1404.9 1299.7 L1406.5 1300.9 L1408.1 1302.0 L1409.7 1303.2 L1411.3 1304.4 L1412.9 1305.6 L1414.6 1306.7 L1416.2 1307.9 L1417.8 1309.0 L1419.5 1310.2 L1421.1 1311.3 L1422.8 1312.4 L1424.4 1313.6 L1426.1 1314.7 L1427.7 1315.8 L1429.4 1316.9 L1431.1 1318.0 L1432.8 1319.1 L1434.4 1320.1 L1436.1 1321.2 L1437.8 1322.2 L1439.6 1323.3 L1441.3 1324.3 L1443.0 1325.3 L1444.7 1326.3 L1446.5 1327.2 L1448.2 1328.2 L1450.0 1329.2 L1451.7 1330.1 L1453.5 1331.0 L1455.2 1332.0 L1457.0 1332.9 L1458.8 1333.7 L1460.6 1334.6 L1462.4 1335.5 L1464.2 1336.4 L1466.0 1337.2 L1467.8 1338.1 L1469.6 1338.9 L1471.4 1339.7 L1473.2 1340.6 L1475.0 1341.4 L1476.9 1342.2 L1478.7 1343.1 L1480.5 1343.9 L1482.3 1344.7 L1484.1 1345.6 L1485.9 1346.4 L1487.8 1347.2 L1489.6 1348.1 L1491.4 1348.9 L1493.2 1349.7 L1495.0 1350.6 L1496.9 1351.4 L1498.7 1352.2 L1500.5 1353.0 L1502.3 1353.8 L1504.2 1354.7 L1506.0 1355.5 L1507.8 1356.3 L1509.7 1357.1 L1511.5 1357.9 L1513.3 1358.7 L1515.2 1359.4 L1517.0 1360.2 L1518.9 1361.0 L1520.8 1361.7 L1522.6 1362.4 L1524.5 1363.1 L1526.4 1363.8 L1528.2 1364.5 L1530.1 1365.2 L1532.0 1365.9 L1533.9 1366.5 L1535.8 1367.1 L1537.7 1367.7 L1539.6 1368.3 L1541.5 1368.9 L1543.4 1369.4 L1545.4 1370.0 L1547.3 1370.5 L1549.2 1371.0 L1551.2 1371.5 L1553.1 1371.9 L1555.1 1372.4 L1557.0 1372.8 L1559.0 1373.2 L1560.9 1373.6 L1562.9 1374.0 L1564.8 1374.3 L1566.8 1374.7 L1568.8 1375.0 L1570.8 1375.3 L1572.7 1375.5 L1574.7 1375.8 L1576.7 1376.0 L1578.7 1376.2 L1580.7 1376.4 L1582.6 1376.5 L1584.6 1376.6 L1586.6 1376.8 L1588.6 1376.9 L1590.6 1376.9 L1592.6 1377.0 L1594.6 1377.0 L1596.6 1377.1 L1598.6 1377.1 L1600.6 1377.1 L1602.6 1377.1 L1604.6 1377.0 L1606.6 1377.0 L1608.6 1376.9 L1610.6 1376.8 L1612.6 1376.8 L1614.6 1376.7 L1616.6 1376.6 L1618.6 1376.5 L1620.6 1376.4 L1622.6 1376.3 L1624.6 1376.1 L1626.6 1376.0 L1628.6 1375.9 L1630.6 1375.8 L1632.6 1375.7 L1634.6 1375.6 L1636.6 1375.5 L1638.6 1375.4 L1640.6 1375.3 L1642.6 1375.2 L1644.6 1375.1 L1646.6 1375.0 L1648.6 1374.9 L1650.6 1374.9 L1652.6 1374.8 L1654.6 1374.8 L1656.6 1374.8 L1658.6 1374.8 L1660.6 1374.8 L1662.6 1374.8 L1664.6 1374.9 L1666.6 1374.9 L1668.6 1375.0 L1670.5 1375.1 L1672.5 1375.2 L1674.5 1375.4 L1676.5 1375.5 L1678.5 1375.7 L1680.5 1375.9 L1682.5 1376.1 L1684.4 1376.3 L1686.4 1376.5 L1688.4 1376.7 L1690.4 1377.0 L1692.4 1377.2 L1694.3 1377.5 L1696.3 1377.8 L1698.3 1378.0 L1700.3 1378.3 L1702.2 1378.6 L1704.2 1379.0 L1706.2 1379.3 L1708.1 1379.6 L1710.1 1380.0 L1712.1 1380.3 L1714.0 1380.7 L1716.0 1381.1 L1718.0 1381.5 L1719.9 1381.9 L1721.9 1382.3 L1723.8 1382.8 L1725.8 1383.2 L1727.7 1383.6 L1729.7 1384.1 L1731.6 1384.5 L1733.6 1385.0 L1735.5 1385.5 L1737.4 1385.9 L1739.4 1386.4 L1741.3 1386.9 L1743.3 1387.4 L1745.2 1387.8 L1747.2 1388.3 L1749.1 1388.8 L1751.0 1389.3 L1753.0 1389.8 L1754.9 1390.2 L1756.9 1390.7 L1758.8 1391.2 L1760.8 1391.6 L1762.7 1392.1 L1764.7 1392.5 L1766.6 1393.0 L1768.6 1393.4 L1770.5 1393.8 L1772.5 1394.3 L1774.4 1394.7 L1776.4 1395.1 L1778.4 1395.5 L1780.3 1395.8 L1782.3 1396.2 L1784.2 1396.6 L1786.2 1396.9 L1788.2 1397.2 L1790.2 1397.5 L1792.1 1397.8 L1794.1 1398.1 L1796.1 1398.4 L1798.1 1398.7 L1800.0 1399.0 L1802.0 1399.2 L1804.0 1399.4 L1806.0 1399.7 L1808.0 1399.9 L1810.0 1400.1 L1812.0 1400.3 L1813.9 1400.5 L1815.9 1400.7 L1817.9 1400.8 L1819.9 1401.0 L1821.9 1401.1 L1823.9 1401.3 L1825.9 1401.4 L1827.9 1401.6 L1829.9 1401.7 L1831.9 1401.8 L1833.9 1401.9 L1835.9 1402.0 L1837.9 1402.1 L1839.9 1402.2 L1841.9 1402.3 L1843.9 1402.4 L1845.9 1402.5 L1847.9 1402.6 L1849.9 1402.7 L1851.9 1402.7 L1853.9 1402.8 L1855.9 1402.9 L1857.9 1402.9 L1859.9 1403.0 L1861.9 1403.1 L1863.9 1403.1 L1865.9 1403.2 L1867.9 1403.2 L1869.9 1403.3 L1871.9 1403.3 L1873.9 1403.4 L1875.9 1403.4 L1877.9 1403.5 L1879.9 1403.5 L1881.9 1403.6 L1883.9 1403.6 L1885.9 1403.7 L1887.9 1403.7 L1889.9 1403.8 L1891.9 1403.8 L1893.9 1403.9 L1895.9 1403.9 L1897.9 1404.0 L1899.9 1404.0 L1901.9 1404.1 L1903.9 1404.1 L1905.9 1404.2 L1907.9 1404.2 L1909.9 1404.2 L1911.9 1404.3 L1913.9 1404.3 L1915.9 1404.4 L1917.9 1404.4 L1919.9 1404.5 L1921.9 1404.5 L1923.9 1404.6 L1925.2 1404.6" stroke="#0000ff"/>
</g>
<g stroke="#111111" stroke-width="5.9" fill="none">
<path d="M280.8 50.0 L280.8 1413.8 L1927.0 1413.8"/>
<path d="M261.0 1413.8 L280.8 1413.8"/>
<path d="M261.0 1073.6 L280.8 1073.6"/>
<path d="M261.0 733.4 L280.8 733.4"/>
<path d="M261.0 393.2 L280.8 393.2"/>
<path d="M261.0 53.0 L280.8 53.0"/>
<path d="M280.8 1413.8 L280.8 1430.5"/>
<path d="M691.6 1413.8 L691.6 1430.5"/>
<path d="M1102.4 1413.8 L1102.4 1430.5"/>
<path d="M1513.2 1413.8 L1513.2 1430.5"/>
<path d="M1924.0 1413.8 L1924.0 1430.5"/>
</g>
<g font-family="Liberation Serif, 'Times New Roman', serif" fill="#000">
<text x="138.5" y="71.7" font-size="59.0" font-weight="bold" textLength="90.3" lengthAdjust="spacing">800</text>
<text x="138.7" y="412.0" font-size="59.0" font-weight="bold" textLength="89.7" lengthAdjust="spacing">600</text>
<text x="139.2" y="752.2" font-size="59.0" font-weight="bold" textLength="89.2" lengthAdjust="spacing">400</text>
<text x="138.2" y="1089.1" font-size="59.0" font-weight="bold" textLength="90.2" lengthAdjust="spacing">200</text>
<text x="199.5" y="1429.8" font-size="59.0" font-weight="bold">0</text>
<text x="234.9" y="1501.5" font-size="59.0" font-weight="bold" textLength="89.3" lengthAdjust="spacing">500</text>
<text x="646.2" y="1501.5" font-size="59.0" font-weight="bold" textLength="88.3" lengthAdjust="spacing">550</text>
<text x="1057.8" y="1501.5" font-size="59.0" font-weight="bold" textLength="89.0" lengthAdjust="spacing">600</text>
<text x="1468.8" y="1501.5" font-size="59.0" font-weight="bold" textLength="88.9" lengthAdjust="spacing">650</text>
<text x="1878.0" y="1501.2" font-size="59.0" font-weight="bold" textLength="91.3" lengthAdjust="spacing">700</text>
<text x="699.4" y="1609.9" font-size="64.0" font-weight="bold" textLength="484.4" lengthAdjust="spacing">Wavelength (nm)</text>
<text x="1303.2" y="105.8" font-size="48.5" textLength="56.8" lengthAdjust="spacing">(a)</text>
<text x="1369.6" y="105.8" font-size="48.5" textLength="65.3" lengthAdjust="spacing">RB</text>
<text x="1302.7" y="199.6" font-size="48.5" textLength="57.3" lengthAdjust="spacing">(b)</text>
<text x="1371.0" y="199.6" font-size="48.5" textLength="170.2" lengthAdjust="spacing">RB+WS</text>
<text x="1539.8" y="216.4" font-size="48.5">2</text>
<text x="1575.2" y="199.8" font-size="48.5" textLength="92.2" lengthAdjust="spacing">QDs</text>
<text x="1680.2" y="199.8" font-size="48.5" textLength="39.1" lengthAdjust="spacing">(1</text>
<text x="1731.6" y="199.9" font-size="48.5" textLength="156.1" lengthAdjust="spacing">mmol.L</text>
<text x="1885.7" y="177.1" font-size="48.5" textLength="39.7" lengthAdjust="spacing">-1</text>
<text x="1929.1" y="198.2" font-size="48.5">)</text>
<text x="1302.7" y="294.1" font-size="48.5" textLength="57.3" lengthAdjust="spacing">(c)</text>
<text x="1368.7" y="294.1" font-size="48.5" textLength="168.8" lengthAdjust="spacing">RB+WS</text>
<text x="1536.8" y="317.4" font-size="48.5">2</text>
<text x="1575.1" y="294.1" font-size="48.5" textLength="88.9" lengthAdjust="spacing">QDs</text>
<text x="1676.5" y="294.1" font-size="48.5" textLength="77.7" lengthAdjust="spacing">(1.6</text>
<text x="1764.3" y="294.4" font-size="48.5" textLength="159.5" lengthAdjust="spacing">mmol.L</text>
<text x="1921.5" y="274.9" font-size="48.5" textLength="39.8" lengthAdjust="spacing">-1</text>
<text x="1964.5" y="293.6" font-size="48.5">)</text>
<text x="940.8" y="120.2" font-size="48.5" textLength="55.7" lengthAdjust="spacing">(a)</text>
<text x="938.0" y="254.9" font-size="48.5" textLength="58.5" lengthAdjust="spacing">(b)</text>
<text x="938.5" y="407.5" font-size="48.5" textLength="54.3" lengthAdjust="spacing">(c)</text>
<text transform="translate(71.7 1148.8) rotate(-90)" x="0" y="0" font-size="64.0" font-weight="bold" textLength="782.2" lengthAdjust="spacing">Fluorescence intensity (a.u.)</text>
</g>
<path d="M1184 89.0 L1295.5 89.0" stroke="#0000ff" stroke-width="6.3"/>
<path d="M1184 183.9 L1295.5 183.9" stroke="#ff0000" stroke-width="6.3"/>
<path d="M1184 278.9 L1295.5 278.9" stroke="#22dd22" stroke-width="6.3"/></g></svg>
</body></html>
